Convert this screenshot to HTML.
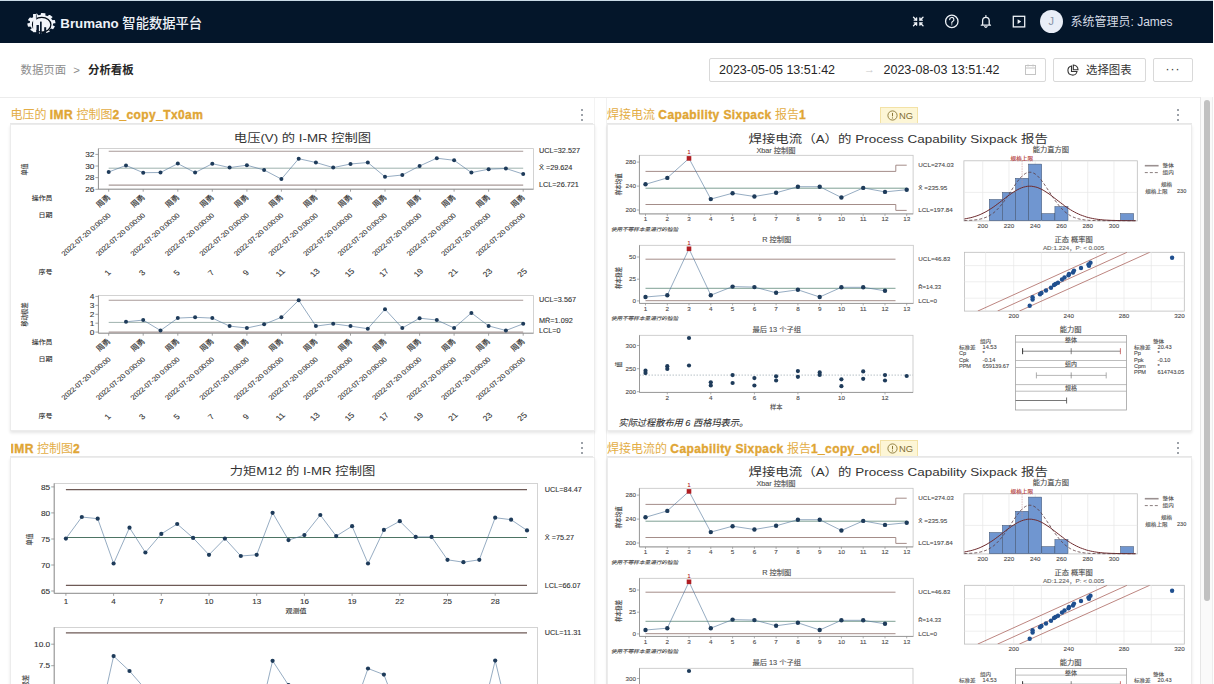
<!DOCTYPE html>
<html lang="zh-CN"><head><meta charset="utf-8"><title>Brumano 智能数据平台</title><style>
*{margin:0;padding:0;box-sizing:border-box}
html,body{width:1214px;height:684px;overflow:hidden;background:#fff;font-family:"Liberation Sans","Noto Sans CJK SC",sans-serif;color:#333}
.a{position:absolute}
#hdr{left:0;top:0;width:1213px;height:43px;background:#04162a;border-top:1px solid #c9dae6}
.ttl{font-size:12px;font-weight:normal;color:#e3ad45;white-space:nowrap;overflow:hidden;line-height:14px}
.ttl b{font-weight:bold;color:#e0a534;letter-spacing:0.4px;-webkit-text-stroke:0.35px #e0a534}
.uline{height:1px;background:#e8e8e8}
.box{border:1px solid #ececec;background:#fff;box-shadow:0 2px 3px rgba(0,0,0,0.10)}
.dots{width:3px}
.dots i{display:block;width:2px;height:2px;border-radius:50%;background:#7d838d;margin-bottom:3.1px}
.btn{border:1px solid #d9d9d9;border-radius:2px;background:#fff}
.badge{width:37.5px;height:17px;background:#fdf6d6;border:1px solid #f3e2a6;font-size:9.4px;color:#7f6c32;display:flex;align-items:center;white-space:nowrap}
svg text{font-family:"Liberation Sans","Noto Sans CJK SC",sans-serif}
</style></head><body>
<div id="hdr" class="a"></div>
<svg class="a" style="left:26px;top:11px" width="32" height="24" viewBox="26 11 32 24">
<g fill="#f2f5fa" transform="translate(41.4 23.3) scale(1.36 1)"><circle r="8.6"/><rect x="-1.7" y="-10.3" width="3.4" height="4" rx="0.5" transform="rotate(8)"/><rect x="-1.7" y="-10.3" width="3.4" height="4" rx="0.5" transform="rotate(44)"/><rect x="-1.7" y="-10.3" width="3.4" height="4" rx="0.5" transform="rotate(80)"/><rect x="-1.7" y="-10.3" width="3.4" height="4" rx="0.5" transform="rotate(116)"/><rect x="-1.7" y="-10.3" width="3.4" height="4" rx="0.5" transform="rotate(152)"/><rect x="-1.7" y="-10.3" width="3.4" height="4" rx="0.5" transform="rotate(188)"/><rect x="-1.7" y="-10.3" width="3.4" height="4" rx="0.5" transform="rotate(224)"/><rect x="-1.7" y="-10.3" width="3.4" height="4" rx="0.5" transform="rotate(260)"/><rect x="-1.7" y="-10.3" width="3.4" height="4" rx="0.5" transform="rotate(296)"/><rect x="-1.7" y="-10.3" width="3.4" height="4" rx="0.5" transform="rotate(332)"/></g>
<ellipse cx="41.7" cy="24.7" rx="9.2" ry="7.4" fill="#f2f5fa" stroke="#020b16" stroke-width="1.3"/>
<rect x="33.1" y="14.0" width="3.2" height="18.2" fill="#f2f5fa"/>
<path d="M36.4 14.4 V18.2" stroke="#08182c" stroke-width="0.7"/>
<rect x="36.5" y="25" width="2.4" height="10" fill="#08182c"/>
<rect x="40" y="21.6" width="1.7" height="13" fill="#08182c"/>
<rect x="44.2" y="27.2" width="2" height="8" fill="#08182c"/>
</svg>
<div class="a" style="left:60.3px;top:15px;font-size:13.3px;font-weight:bold;color:#eef2f8;line-height:18px;white-space:nowrap">Brumano <span style="font-weight:500;font-size:13.3px">智能数据平台</span></div>
<svg class="a" style="left:905px;top:8px" width="130" height="28" viewBox="905 8 130 28" fill="none" stroke="#eef2f7" stroke-width="1.3" stroke-linecap="round">
<path d="M913.5 17.2 L916.6 20.2 M916.6 17.8 V20.2 H914.2 M923 17.2 L919.9 20.2 M919.9 17.8 V20.2 H922.3 M913.5 25.8 L916.6 22.8 M916.6 25.2 V22.8 H914.2 M923 25.8 L919.9 22.8 M919.9 25.2 V22.8 H922.3"/>
<circle cx="951.8" cy="21.4" r="6.2"/>
<path d="M949.7 19.6 a2.1 2.1 0 1 1 2.9 1.9 c-0.6 0.3 -0.8 0.7 -0.8 1.3 v0.4" stroke-width="1.2"/>
<circle cx="951.8" cy="24.8" r="0.6" fill="#eef2f7" stroke="none"/>
<path d="M981.3 25.2 h9.2 M982.6 25.2 v-4.6 a3.3 3.3 0 0 1 6.6 0 v4.6 M985.9 15.6 v1.2 M984.8 26.6 a1.2 1.2 0 0 0 2.2 0" stroke-width="1.3"/>
<rect x="1013.3" y="16.3" width="11.4" height="10.6" stroke-width="1.3"/>
<path d="M1017.6 19.2 L1021.2 21.6 L1017.6 24 Z" fill="#eef2f7" stroke="none"/>
</svg>
<div class="a" style="left:1039.5px;top:9.5px;width:23.5px;height:23.5px;border-radius:50%;background:#e9eef7;color:#8a94a6;font-size:11px;line-height:23.5px;text-align:center">J</div>
<div class="a" style="left:1070.5px;top:14px;font-size:12px;color:#d6dce6;line-height:16px;white-space:nowrap">系统管理员: James</div>

<div class="a" style="left:20.5px;top:62px;font-size:11.4px;line-height:16px;white-space:nowrap;color:#8c8c8c">数据页面 <span style="margin:0 5px 0 4px">&gt;</span> <span style="color:#262626;font-weight:bold">分析看板</span></div>

<div class="a btn" style="left:708.5px;top:58px;width:337.5px;height:24px"></div>
<div class="a" style="left:719px;top:62px;font-size:12.5px;line-height:16px;color:#262626;white-space:nowrap">2023-05-05 13:51:42</div>
<div class="a" style="left:864px;top:61px;font-size:11px;line-height:16px;color:#c8c8c8">&#8594;</div>
<div class="a" style="left:883.5px;top:62px;font-size:12.5px;line-height:16px;color:#262626;white-space:nowrap">2023-08-03 13:51:42</div>
<svg class="a" style="left:1024px;top:64px" width="13" height="12" viewBox="0 0 13 12" fill="none" stroke="#c4c4c4" stroke-width="1"><rect x="1.5" y="1.5" width="10" height="9"/><path d="M1.5 4 H11.5 M4 0.5 V2.5 M9 0.5 V2.5"/></svg>

<div class="a btn" style="left:1053px;top:58px;width:92.5px;height:24px"></div>
<svg class="a" style="left:1066px;top:63.5px" width="13" height="13" viewBox="0 0 13 13" fill="none" stroke="#333" stroke-width="1.1"><path d="M5.5 2 A4.6 4.6 0 1 0 11 7.5 H5.5 Z"/><path d="M7.3 1 A4.6 4.6 0 0 1 12 5.7 H7.3 Z"/></svg>
<div class="a" style="left:1086px;top:62px;font-size:11.4px;line-height:16px;color:#333;white-space:nowrap">选择图表</div>
<div class="a btn" style="left:1152.5px;top:58px;width:40px;height:24px"></div>
<div class="a" style="left:1153px;top:62px;width:40px;text-align:center;font-size:12px;line-height:14px;color:#333;letter-spacing:1px">&middot;&middot;&middot;</div>

<div class="a" style="left:0;top:97px;width:1200px;height:1px;background:#ececec"></div>
<div class="a" style="left:594px;top:98px;width:1px;height:586px;background:#f3f3f3"></div>
<div class="a" style="left:606px;top:98px;width:1px;height:586px;background:#f1f1f1"></div>

<!-- cards -->
<div class="a ttl" style="left:10.5px;top:108px;width:560px">电压的 <b>IMR</b> 控制图<b>2_copy_Tx0am</b></div>
<div class="a dots" style="left:580.5px;top:108.5px"><i></i><i></i><i></i></div>
<div class="a uline" style="left:10px;top:123px;width:583px"></div>
<div class="a box" style="left:10px;top:123.5px;width:584.5px;height:307px"></div>

<div class="a ttl" style="left:607px;top:108px;width:272px">焊接电流 <b>Capability Sixpack</b> 报告<b>1</b></div>
<div class="a badge" style="left:880px;top:106.5px"><svg width="11" height="11" viewBox="0 0 11 11" style="margin:0 1.5px 0 5.5px"><circle cx="5.5" cy="5.5" r="4.6" fill="none" stroke="#8a7636" stroke-width="0.9"/><path d="M5.5 2.9 V6.3" stroke="#8a7636" stroke-width="1"/><circle cx="5.5" cy="7.9" r="0.6" fill="#8a7636"/></svg><span>NG</span></div>
<div class="a dots" style="left:1177px;top:108.5px"><i></i><i></i><i></i></div>
<div class="a uline" style="left:607px;top:123px;width:585px"></div>
<div class="a box" style="left:606.5px;top:123.5px;width:585px;height:307px"></div>

<div class="a ttl" style="left:10.5px;top:441.5px;width:560px"><b>IMR</b> 控制图<b>2</b></div>
<div class="a dots" style="left:580.5px;top:441.5px"><i></i><i></i><i></i></div>
<div class="a uline" style="left:10px;top:456px;width:583px"></div>
<div class="a box" style="left:10px;top:456.5px;width:584.5px;height:307px"></div>

<div class="a ttl" style="left:607px;top:441.5px;width:272.5px">焊接电流的 <b>Capability Sixpack</b> 报告<b>1_copy_ocl</b></div>
<div class="a badge" style="left:880px;top:439.5px"><svg width="11" height="11" viewBox="0 0 11 11" style="margin:0 1.5px 0 5.5px"><circle cx="5.5" cy="5.5" r="4.6" fill="none" stroke="#8a7636" stroke-width="0.9"/><path d="M5.5 2.9 V6.3" stroke="#8a7636" stroke-width="1"/><circle cx="5.5" cy="7.9" r="0.6" fill="#8a7636"/></svg><span>NG</span></div>
<div class="a dots" style="left:1177px;top:441.5px"><i></i><i></i><i></i></div>
<div class="a uline" style="left:607px;top:456px;width:585px"></div>
<div class="a box" style="left:606.5px;top:456.5px;width:585px;height:307px"></div>

<svg class="a" style="left:0;top:0" width="1214" height="684" viewBox="0 0 1214 684">
<defs><clipPath id="cp1"><rect x="964.5" y="252.3" width="219.8" height="58.8"/></clipPath>
<clipPath id="cp2"><rect x="964.5" y="585.3" width="219.8" height="58.8"/></clipPath>
<clipPath id="cl"><rect x="10" y="456" width="585" height="228"/></clipPath></defs>
<text transform="translate(302.5,141.7) scale(1.16,1)" font-size="11.47" text-anchor="middle" fill="#333" >电压(V) 的 I-MR 控制图</text><rect x="98.4" y="148.6" width="435.1" height="40.6" fill="#fff" stroke="#c8c8c8" stroke-width="0.8" /><line x1="98.4" y1="148.6" x2="98.4" y2="189.2" stroke="#8c8c8c" stroke-width="0.9" /><line x1="98.4" y1="189.2" x2="533.5" y2="189.2" stroke="#8c8c8c" stroke-width="0.9" /><line x1="108.7" y1="151.3" x2="523.2" y2="151.3" stroke="#a89a98" stroke-width="1.1" /><line x1="108.7" y1="168.2" x2="523.2" y2="168.2" stroke="#9fb2ae" stroke-width="1.0" /><line x1="108.7" y1="185.1" x2="523.2" y2="185.1" stroke="#a89a98" stroke-width="1.1" /><line x1="95.4" y1="154.4" x2="98.4" y2="154.4" stroke="#8c8c8c" stroke-width="0.8" /><text transform="translate(94.4,156.9) scale(1.16,1)" font-size="7.16" text-anchor="end" fill="#333" stroke="#333" stroke-width="0.1" >32</text><line x1="95.4" y1="166" x2="98.4" y2="166" stroke="#8c8c8c" stroke-width="0.8" /><text transform="translate(94.4,168.6) scale(1.16,1)" font-size="7.16" text-anchor="end" fill="#333" stroke="#333" stroke-width="0.1" >30</text><line x1="95.4" y1="177.6" x2="98.4" y2="177.6" stroke="#8c8c8c" stroke-width="0.8" /><text transform="translate(94.4,180.2) scale(1.16,1)" font-size="7.16" text-anchor="end" fill="#333" stroke="#333" stroke-width="0.1" >28</text><line x1="95.4" y1="189.3" x2="98.4" y2="189.3" stroke="#8c8c8c" stroke-width="0.8" /><text transform="translate(94.4,191.9) scale(1.16,1)" font-size="7.16" text-anchor="end" fill="#333" stroke="#333" stroke-width="0.1" >26</text><polyline fill="none" stroke="#4f7398" stroke-width="0.6" points="108.7,172 126,165.4 143.2,172.7 160.5,172.5 177.8,163.6 195.1,172.6 212.3,163.7 229.6,167.6 246.9,165.2 264.1,170 281.4,179.1 298.7,158.7 315.9,162.5 333.2,167.6 350.5,164 367.8,162.5 385,176.8 402.3,175 419.6,166 436.8,158.2 454.1,160.3 471.4,172.6 488.6,169.2 505.9,168.5 523.2,174.1" /><circle cx="108.7" cy="172" r="2.0" fill="#1e3b5a"/><circle cx="126" cy="165.4" r="2.0" fill="#1e3b5a"/><circle cx="143.2" cy="172.7" r="2.0" fill="#1e3b5a"/><circle cx="160.5" cy="172.5" r="2.0" fill="#1e3b5a"/><circle cx="177.8" cy="163.6" r="2.0" fill="#1e3b5a"/><circle cx="195.1" cy="172.6" r="2.0" fill="#1e3b5a"/><circle cx="212.3" cy="163.7" r="2.0" fill="#1e3b5a"/><circle cx="229.6" cy="167.6" r="2.0" fill="#1e3b5a"/><circle cx="246.9" cy="165.2" r="2.0" fill="#1e3b5a"/><circle cx="264.1" cy="170" r="2.0" fill="#1e3b5a"/><circle cx="281.4" cy="179.1" r="2.0" fill="#1e3b5a"/><circle cx="298.7" cy="158.7" r="2.0" fill="#1e3b5a"/><circle cx="315.9" cy="162.5" r="2.0" fill="#1e3b5a"/><circle cx="333.2" cy="167.6" r="2.0" fill="#1e3b5a"/><circle cx="350.5" cy="164" r="2.0" fill="#1e3b5a"/><circle cx="367.8" cy="162.5" r="2.0" fill="#1e3b5a"/><circle cx="385" cy="176.8" r="2.0" fill="#1e3b5a"/><circle cx="402.3" cy="175" r="2.0" fill="#1e3b5a"/><circle cx="419.6" cy="166" r="2.0" fill="#1e3b5a"/><circle cx="436.8" cy="158.2" r="2.0" fill="#1e3b5a"/><circle cx="454.1" cy="160.3" r="2.0" fill="#1e3b5a"/><circle cx="471.4" cy="172.6" r="2.0" fill="#1e3b5a"/><circle cx="488.6" cy="169.2" r="2.0" fill="#1e3b5a"/><circle cx="505.9" cy="168.5" r="2.0" fill="#1e3b5a"/><circle cx="523.2" cy="174.1" r="2.0" fill="#1e3b5a"/><text transform="translate(539,153.2) scale(1.16,1)" font-size="6.29" text-anchor="start" fill="#333" stroke="#333" stroke-width="0.1" >UCL=32.527</text><text transform="translate(539,169.6) scale(1.16,1)" font-size="6.29" text-anchor="start" fill="#333" stroke="#333" stroke-width="0.1" >X̄ =29.624</text><text transform="translate(539,186.5) scale(1.16,1)" font-size="6.29" text-anchor="start" fill="#333" stroke="#333" stroke-width="0.1" >LCL=26.721</text><text transform="translate(27.4,169.5) scale(1.16,1) rotate(-90)" font-size="6.0" text-anchor="middle" fill="#333" stroke="#333" stroke-width="0.1">单值</text><rect x="98.4" y="295.6" width="435.1" height="37.6" fill="#fff" stroke="#c8c8c8" stroke-width="0.8" /><line x1="98.4" y1="295.6" x2="98.4" y2="333.2" stroke="#8c8c8c" stroke-width="0.9" /><line x1="98.4" y1="333.2" x2="533.5" y2="333.2" stroke="#8c8c8c" stroke-width="0.9" /><line x1="108.7" y1="300.3" x2="523.2" y2="300.3" stroke="#a89a98" stroke-width="1.1" /><line x1="108.7" y1="322.4" x2="523.2" y2="322.4" stroke="#9fb2ae" stroke-width="1.0" /><line x1="108.7" y1="332.1" x2="523.2" y2="332.1" stroke="#a89a98" stroke-width="1.1" /><line x1="95.4" y1="296.4" x2="98.4" y2="296.4" stroke="#8c8c8c" stroke-width="0.8" /><text transform="translate(94.4,299) scale(1.16,1)" font-size="7.16" text-anchor="end" fill="#333" stroke="#333" stroke-width="0.1" >4</text><line x1="95.4" y1="305.4" x2="98.4" y2="305.4" stroke="#8c8c8c" stroke-width="0.8" /><text transform="translate(94.4,307.9) scale(1.16,1)" font-size="7.16" text-anchor="end" fill="#333" stroke="#333" stroke-width="0.1" >3</text><line x1="95.4" y1="314.3" x2="98.4" y2="314.3" stroke="#8c8c8c" stroke-width="0.8" /><text transform="translate(94.4,316.9) scale(1.16,1)" font-size="7.16" text-anchor="end" fill="#333" stroke="#333" stroke-width="0.1" >2</text><line x1="95.4" y1="323.2" x2="98.4" y2="323.2" stroke="#8c8c8c" stroke-width="0.8" /><text transform="translate(94.4,325.8) scale(1.16,1)" font-size="7.16" text-anchor="end" fill="#333" stroke="#333" stroke-width="0.1" >1</text><line x1="95.4" y1="332.1" x2="98.4" y2="332.1" stroke="#8c8c8c" stroke-width="0.8" /><text transform="translate(94.4,334.7) scale(1.16,1)" font-size="7.16" text-anchor="end" fill="#333" stroke="#333" stroke-width="0.1" >0</text><polyline fill="none" stroke="#4f7398" stroke-width="0.6" points="126,321.8 143.2,320.1 160.5,330.5 177.8,318.1 195.1,317.3 212.3,318.1 229.6,326.1 246.9,328 264.1,324.3 281.4,317.3 298.7,300.3 315.9,326.1 333.2,323.8 350.5,326.1 367.8,328.7 385,309.2 402.3,328 419.6,318.2 436.8,320 454.1,328 471.4,312.9 488.6,325.9 505.9,330.5 523.2,323.8" /><circle cx="126" cy="321.8" r="2.0" fill="#1e3b5a"/><circle cx="143.2" cy="320.1" r="2.0" fill="#1e3b5a"/><circle cx="160.5" cy="330.5" r="2.0" fill="#1e3b5a"/><circle cx="177.8" cy="318.1" r="2.0" fill="#1e3b5a"/><circle cx="195.1" cy="317.3" r="2.0" fill="#1e3b5a"/><circle cx="212.3" cy="318.1" r="2.0" fill="#1e3b5a"/><circle cx="229.6" cy="326.1" r="2.0" fill="#1e3b5a"/><circle cx="246.9" cy="328" r="2.0" fill="#1e3b5a"/><circle cx="264.1" cy="324.3" r="2.0" fill="#1e3b5a"/><circle cx="281.4" cy="317.3" r="2.0" fill="#1e3b5a"/><circle cx="298.7" cy="300.3" r="2.0" fill="#1e3b5a"/><circle cx="315.9" cy="326.1" r="2.0" fill="#1e3b5a"/><circle cx="333.2" cy="323.8" r="2.0" fill="#1e3b5a"/><circle cx="350.5" cy="326.1" r="2.0" fill="#1e3b5a"/><circle cx="367.8" cy="328.7" r="2.0" fill="#1e3b5a"/><circle cx="385" cy="309.2" r="2.0" fill="#1e3b5a"/><circle cx="402.3" cy="328" r="2.0" fill="#1e3b5a"/><circle cx="419.6" cy="318.2" r="2.0" fill="#1e3b5a"/><circle cx="436.8" cy="320" r="2.0" fill="#1e3b5a"/><circle cx="454.1" cy="328" r="2.0" fill="#1e3b5a"/><circle cx="471.4" cy="312.9" r="2.0" fill="#1e3b5a"/><circle cx="488.6" cy="325.9" r="2.0" fill="#1e3b5a"/><circle cx="505.9" cy="330.5" r="2.0" fill="#1e3b5a"/><circle cx="523.2" cy="323.8" r="2.0" fill="#1e3b5a"/><text transform="translate(539,301.6) scale(1.16,1)" font-size="6.29" text-anchor="start" fill="#333" stroke="#333" stroke-width="0.1" >UCL=3.567</text><text transform="translate(539,322.6) scale(1.16,1)" font-size="6.29" text-anchor="start" fill="#333" stroke="#333" stroke-width="0.1" >MR̄=1.092</text><text transform="translate(539,333) scale(1.16,1)" font-size="6.29" text-anchor="start" fill="#333" stroke="#333" stroke-width="0.1" >LCL=0</text><text transform="translate(27.4,314.6) scale(1.16,1) rotate(-90)" font-size="6.0" text-anchor="middle" fill="#333" stroke="#333" stroke-width="0.1">移动极差</text><line x1="108.7" y1="189.2" x2="108.7" y2="191.7" stroke="#8c8c8c" stroke-width="0.8" /><text transform="translate(111,197.8) scale(1.16,1) rotate(-45)" font-size="7.1" text-anchor="end" fill="#333" stroke="#333" stroke-width="0.12">周勇</text><text transform="translate(111.2,215.8) scale(1.16,1) rotate(-45)" font-size="6.55" text-anchor="end" fill="#333" stroke="#333" stroke-width="0.12">2022-07-20 0:00:00</text><text transform="translate(109.7,274.5) scale(1.16,1) rotate(-45)" font-size="7.4" text-anchor="middle" fill="#333" stroke="#333" stroke-width="0.12">1</text><line x1="143.2" y1="189.2" x2="143.2" y2="191.7" stroke="#8c8c8c" stroke-width="0.8" /><text transform="translate(145.5,197.8) scale(1.16,1) rotate(-45)" font-size="7.1" text-anchor="end" fill="#333" stroke="#333" stroke-width="0.12">周勇</text><text transform="translate(145.7,215.8) scale(1.16,1) rotate(-45)" font-size="6.55" text-anchor="end" fill="#333" stroke="#333" stroke-width="0.12">2022-07-20 0:00:00</text><text transform="translate(144.2,274.5) scale(1.16,1) rotate(-45)" font-size="7.4" text-anchor="middle" fill="#333" stroke="#333" stroke-width="0.12">3</text><line x1="177.8" y1="189.2" x2="177.8" y2="191.7" stroke="#8c8c8c" stroke-width="0.8" /><text transform="translate(180.1,197.8) scale(1.16,1) rotate(-45)" font-size="7.1" text-anchor="end" fill="#333" stroke="#333" stroke-width="0.12">周勇</text><text transform="translate(180.3,215.8) scale(1.16,1) rotate(-45)" font-size="6.55" text-anchor="end" fill="#333" stroke="#333" stroke-width="0.12">2022-07-20 0:00:00</text><text transform="translate(178.8,274.5) scale(1.16,1) rotate(-45)" font-size="7.4" text-anchor="middle" fill="#333" stroke="#333" stroke-width="0.12">5</text><line x1="212.3" y1="189.2" x2="212.3" y2="191.7" stroke="#8c8c8c" stroke-width="0.8" /><text transform="translate(214.6,197.8) scale(1.16,1) rotate(-45)" font-size="7.1" text-anchor="end" fill="#333" stroke="#333" stroke-width="0.12">周勇</text><text transform="translate(214.8,215.8) scale(1.16,1) rotate(-45)" font-size="6.55" text-anchor="end" fill="#333" stroke="#333" stroke-width="0.12">2022-07-20 0:00:00</text><text transform="translate(213.3,274.5) scale(1.16,1) rotate(-45)" font-size="7.4" text-anchor="middle" fill="#333" stroke="#333" stroke-width="0.12">7</text><line x1="246.9" y1="189.2" x2="246.9" y2="191.7" stroke="#8c8c8c" stroke-width="0.8" /><text transform="translate(249.2,197.8) scale(1.16,1) rotate(-45)" font-size="7.1" text-anchor="end" fill="#333" stroke="#333" stroke-width="0.12">周勇</text><text transform="translate(249.4,215.8) scale(1.16,1) rotate(-45)" font-size="6.55" text-anchor="end" fill="#333" stroke="#333" stroke-width="0.12">2022-07-20 0:00:00</text><text transform="translate(247.9,274.5) scale(1.16,1) rotate(-45)" font-size="7.4" text-anchor="middle" fill="#333" stroke="#333" stroke-width="0.12">9</text><line x1="281.4" y1="189.2" x2="281.4" y2="191.7" stroke="#8c8c8c" stroke-width="0.8" /><text transform="translate(283.7,197.8) scale(1.16,1) rotate(-45)" font-size="7.1" text-anchor="end" fill="#333" stroke="#333" stroke-width="0.12">周勇</text><text transform="translate(283.9,215.8) scale(1.16,1) rotate(-45)" font-size="6.55" text-anchor="end" fill="#333" stroke="#333" stroke-width="0.12">2022-07-20 0:00:00</text><text transform="translate(282.4,274.5) scale(1.16,1) rotate(-45)" font-size="7.4" text-anchor="middle" fill="#333" stroke="#333" stroke-width="0.12">11</text><line x1="315.9" y1="189.2" x2="315.9" y2="191.7" stroke="#8c8c8c" stroke-width="0.8" /><text transform="translate(318.2,197.8) scale(1.16,1) rotate(-45)" font-size="7.1" text-anchor="end" fill="#333" stroke="#333" stroke-width="0.12">周勇</text><text transform="translate(318.4,215.8) scale(1.16,1) rotate(-45)" font-size="6.55" text-anchor="end" fill="#333" stroke="#333" stroke-width="0.12">2022-07-20 0:00:00</text><text transform="translate(316.9,274.5) scale(1.16,1) rotate(-45)" font-size="7.4" text-anchor="middle" fill="#333" stroke="#333" stroke-width="0.12">13</text><line x1="350.5" y1="189.2" x2="350.5" y2="191.7" stroke="#8c8c8c" stroke-width="0.8" /><text transform="translate(352.8,197.8) scale(1.16,1) rotate(-45)" font-size="7.1" text-anchor="end" fill="#333" stroke="#333" stroke-width="0.12">周勇</text><text transform="translate(353,215.8) scale(1.16,1) rotate(-45)" font-size="6.55" text-anchor="end" fill="#333" stroke="#333" stroke-width="0.12">2022-07-20 0:00:00</text><text transform="translate(351.5,274.5) scale(1.16,1) rotate(-45)" font-size="7.4" text-anchor="middle" fill="#333" stroke="#333" stroke-width="0.12">15</text><line x1="385" y1="189.2" x2="385" y2="191.7" stroke="#8c8c8c" stroke-width="0.8" /><text transform="translate(387.3,197.8) scale(1.16,1) rotate(-45)" font-size="7.1" text-anchor="end" fill="#333" stroke="#333" stroke-width="0.12">周勇</text><text transform="translate(387.5,215.8) scale(1.16,1) rotate(-45)" font-size="6.55" text-anchor="end" fill="#333" stroke="#333" stroke-width="0.12">2022-07-20 0:00:00</text><text transform="translate(386,274.5) scale(1.16,1) rotate(-45)" font-size="7.4" text-anchor="middle" fill="#333" stroke="#333" stroke-width="0.12">17</text><line x1="419.6" y1="189.2" x2="419.6" y2="191.7" stroke="#8c8c8c" stroke-width="0.8" /><text transform="translate(421.9,197.8) scale(1.16,1) rotate(-45)" font-size="7.1" text-anchor="end" fill="#333" stroke="#333" stroke-width="0.12">周勇</text><text transform="translate(422.1,215.8) scale(1.16,1) rotate(-45)" font-size="6.55" text-anchor="end" fill="#333" stroke="#333" stroke-width="0.12">2022-07-20 0:00:00</text><text transform="translate(420.6,274.5) scale(1.16,1) rotate(-45)" font-size="7.4" text-anchor="middle" fill="#333" stroke="#333" stroke-width="0.12">19</text><line x1="454.1" y1="189.2" x2="454.1" y2="191.7" stroke="#8c8c8c" stroke-width="0.8" /><text transform="translate(456.4,197.8) scale(1.16,1) rotate(-45)" font-size="7.1" text-anchor="end" fill="#333" stroke="#333" stroke-width="0.12">周勇</text><text transform="translate(456.6,215.8) scale(1.16,1) rotate(-45)" font-size="6.55" text-anchor="end" fill="#333" stroke="#333" stroke-width="0.12">2022-07-20 0:00:00</text><text transform="translate(455.1,274.5) scale(1.16,1) rotate(-45)" font-size="7.4" text-anchor="middle" fill="#333" stroke="#333" stroke-width="0.12">21</text><line x1="488.6" y1="189.2" x2="488.6" y2="191.7" stroke="#8c8c8c" stroke-width="0.8" /><text transform="translate(490.9,197.8) scale(1.16,1) rotate(-45)" font-size="7.1" text-anchor="end" fill="#333" stroke="#333" stroke-width="0.12">周勇</text><text transform="translate(491.1,215.8) scale(1.16,1) rotate(-45)" font-size="6.55" text-anchor="end" fill="#333" stroke="#333" stroke-width="0.12">2022-07-20 0:00:00</text><text transform="translate(489.6,274.5) scale(1.16,1) rotate(-45)" font-size="7.4" text-anchor="middle" fill="#333" stroke="#333" stroke-width="0.12">23</text><line x1="523.2" y1="189.2" x2="523.2" y2="191.7" stroke="#8c8c8c" stroke-width="0.8" /><text transform="translate(525.5,197.8) scale(1.16,1) rotate(-45)" font-size="7.1" text-anchor="end" fill="#333" stroke="#333" stroke-width="0.12">周勇</text><text transform="translate(525.7,215.8) scale(1.16,1) rotate(-45)" font-size="6.55" text-anchor="end" fill="#333" stroke="#333" stroke-width="0.12">2022-07-20 0:00:00</text><text transform="translate(524.2,274.5) scale(1.16,1) rotate(-45)" font-size="7.4" text-anchor="middle" fill="#333" stroke="#333" stroke-width="0.12">25</text><text transform="translate(52.6,199.9) scale(1.16,1)" font-size="6.03" text-anchor="end" fill="#333" stroke="#333" stroke-width="0.1" >操作员</text><text transform="translate(52.6,217.2) scale(1.16,1)" font-size="6.03" text-anchor="end" fill="#333" stroke="#333" stroke-width="0.1" >日期</text><text transform="translate(52.6,274.2) scale(1.16,1)" font-size="6.03" text-anchor="end" fill="#333" stroke="#333" stroke-width="0.1" >序号</text><line x1="108.7" y1="333.2" x2="108.7" y2="335.7" stroke="#8c8c8c" stroke-width="0.8" /><text transform="translate(111,341.8) scale(1.16,1) rotate(-45)" font-size="7.1" text-anchor="end" fill="#333" stroke="#333" stroke-width="0.12">周勇</text><text transform="translate(111.2,359.8) scale(1.16,1) rotate(-45)" font-size="6.55" text-anchor="end" fill="#333" stroke="#333" stroke-width="0.12">2022-07-20 0:00:00</text><text transform="translate(109.7,418.5) scale(1.16,1) rotate(-45)" font-size="7.4" text-anchor="middle" fill="#333" stroke="#333" stroke-width="0.12">1</text><line x1="143.2" y1="333.2" x2="143.2" y2="335.7" stroke="#8c8c8c" stroke-width="0.8" /><text transform="translate(145.5,341.8) scale(1.16,1) rotate(-45)" font-size="7.1" text-anchor="end" fill="#333" stroke="#333" stroke-width="0.12">周勇</text><text transform="translate(145.7,359.8) scale(1.16,1) rotate(-45)" font-size="6.55" text-anchor="end" fill="#333" stroke="#333" stroke-width="0.12">2022-07-20 0:00:00</text><text transform="translate(144.2,418.5) scale(1.16,1) rotate(-45)" font-size="7.4" text-anchor="middle" fill="#333" stroke="#333" stroke-width="0.12">3</text><line x1="177.8" y1="333.2" x2="177.8" y2="335.7" stroke="#8c8c8c" stroke-width="0.8" /><text transform="translate(180.1,341.8) scale(1.16,1) rotate(-45)" font-size="7.1" text-anchor="end" fill="#333" stroke="#333" stroke-width="0.12">周勇</text><text transform="translate(180.3,359.8) scale(1.16,1) rotate(-45)" font-size="6.55" text-anchor="end" fill="#333" stroke="#333" stroke-width="0.12">2022-07-20 0:00:00</text><text transform="translate(178.8,418.5) scale(1.16,1) rotate(-45)" font-size="7.4" text-anchor="middle" fill="#333" stroke="#333" stroke-width="0.12">5</text><line x1="212.3" y1="333.2" x2="212.3" y2="335.7" stroke="#8c8c8c" stroke-width="0.8" /><text transform="translate(214.6,341.8) scale(1.16,1) rotate(-45)" font-size="7.1" text-anchor="end" fill="#333" stroke="#333" stroke-width="0.12">周勇</text><text transform="translate(214.8,359.8) scale(1.16,1) rotate(-45)" font-size="6.55" text-anchor="end" fill="#333" stroke="#333" stroke-width="0.12">2022-07-20 0:00:00</text><text transform="translate(213.3,418.5) scale(1.16,1) rotate(-45)" font-size="7.4" text-anchor="middle" fill="#333" stroke="#333" stroke-width="0.12">7</text><line x1="246.9" y1="333.2" x2="246.9" y2="335.7" stroke="#8c8c8c" stroke-width="0.8" /><text transform="translate(249.2,341.8) scale(1.16,1) rotate(-45)" font-size="7.1" text-anchor="end" fill="#333" stroke="#333" stroke-width="0.12">周勇</text><text transform="translate(249.4,359.8) scale(1.16,1) rotate(-45)" font-size="6.55" text-anchor="end" fill="#333" stroke="#333" stroke-width="0.12">2022-07-20 0:00:00</text><text transform="translate(247.9,418.5) scale(1.16,1) rotate(-45)" font-size="7.4" text-anchor="middle" fill="#333" stroke="#333" stroke-width="0.12">9</text><line x1="281.4" y1="333.2" x2="281.4" y2="335.7" stroke="#8c8c8c" stroke-width="0.8" /><text transform="translate(283.7,341.8) scale(1.16,1) rotate(-45)" font-size="7.1" text-anchor="end" fill="#333" stroke="#333" stroke-width="0.12">周勇</text><text transform="translate(283.9,359.8) scale(1.16,1) rotate(-45)" font-size="6.55" text-anchor="end" fill="#333" stroke="#333" stroke-width="0.12">2022-07-20 0:00:00</text><text transform="translate(282.4,418.5) scale(1.16,1) rotate(-45)" font-size="7.4" text-anchor="middle" fill="#333" stroke="#333" stroke-width="0.12">11</text><line x1="315.9" y1="333.2" x2="315.9" y2="335.7" stroke="#8c8c8c" stroke-width="0.8" /><text transform="translate(318.2,341.8) scale(1.16,1) rotate(-45)" font-size="7.1" text-anchor="end" fill="#333" stroke="#333" stroke-width="0.12">周勇</text><text transform="translate(318.4,359.8) scale(1.16,1) rotate(-45)" font-size="6.55" text-anchor="end" fill="#333" stroke="#333" stroke-width="0.12">2022-07-20 0:00:00</text><text transform="translate(316.9,418.5) scale(1.16,1) rotate(-45)" font-size="7.4" text-anchor="middle" fill="#333" stroke="#333" stroke-width="0.12">13</text><line x1="350.5" y1="333.2" x2="350.5" y2="335.7" stroke="#8c8c8c" stroke-width="0.8" /><text transform="translate(352.8,341.8) scale(1.16,1) rotate(-45)" font-size="7.1" text-anchor="end" fill="#333" stroke="#333" stroke-width="0.12">周勇</text><text transform="translate(353,359.8) scale(1.16,1) rotate(-45)" font-size="6.55" text-anchor="end" fill="#333" stroke="#333" stroke-width="0.12">2022-07-20 0:00:00</text><text transform="translate(351.5,418.5) scale(1.16,1) rotate(-45)" font-size="7.4" text-anchor="middle" fill="#333" stroke="#333" stroke-width="0.12">15</text><line x1="385" y1="333.2" x2="385" y2="335.7" stroke="#8c8c8c" stroke-width="0.8" /><text transform="translate(387.3,341.8) scale(1.16,1) rotate(-45)" font-size="7.1" text-anchor="end" fill="#333" stroke="#333" stroke-width="0.12">周勇</text><text transform="translate(387.5,359.8) scale(1.16,1) rotate(-45)" font-size="6.55" text-anchor="end" fill="#333" stroke="#333" stroke-width="0.12">2022-07-20 0:00:00</text><text transform="translate(386,418.5) scale(1.16,1) rotate(-45)" font-size="7.4" text-anchor="middle" fill="#333" stroke="#333" stroke-width="0.12">17</text><line x1="419.6" y1="333.2" x2="419.6" y2="335.7" stroke="#8c8c8c" stroke-width="0.8" /><text transform="translate(421.9,341.8) scale(1.16,1) rotate(-45)" font-size="7.1" text-anchor="end" fill="#333" stroke="#333" stroke-width="0.12">周勇</text><text transform="translate(422.1,359.8) scale(1.16,1) rotate(-45)" font-size="6.55" text-anchor="end" fill="#333" stroke="#333" stroke-width="0.12">2022-07-20 0:00:00</text><text transform="translate(420.6,418.5) scale(1.16,1) rotate(-45)" font-size="7.4" text-anchor="middle" fill="#333" stroke="#333" stroke-width="0.12">19</text><line x1="454.1" y1="333.2" x2="454.1" y2="335.7" stroke="#8c8c8c" stroke-width="0.8" /><text transform="translate(456.4,341.8) scale(1.16,1) rotate(-45)" font-size="7.1" text-anchor="end" fill="#333" stroke="#333" stroke-width="0.12">周勇</text><text transform="translate(456.6,359.8) scale(1.16,1) rotate(-45)" font-size="6.55" text-anchor="end" fill="#333" stroke="#333" stroke-width="0.12">2022-07-20 0:00:00</text><text transform="translate(455.1,418.5) scale(1.16,1) rotate(-45)" font-size="7.4" text-anchor="middle" fill="#333" stroke="#333" stroke-width="0.12">21</text><line x1="488.6" y1="333.2" x2="488.6" y2="335.7" stroke="#8c8c8c" stroke-width="0.8" /><text transform="translate(490.9,341.8) scale(1.16,1) rotate(-45)" font-size="7.1" text-anchor="end" fill="#333" stroke="#333" stroke-width="0.12">周勇</text><text transform="translate(491.1,359.8) scale(1.16,1) rotate(-45)" font-size="6.55" text-anchor="end" fill="#333" stroke="#333" stroke-width="0.12">2022-07-20 0:00:00</text><text transform="translate(489.6,418.5) scale(1.16,1) rotate(-45)" font-size="7.4" text-anchor="middle" fill="#333" stroke="#333" stroke-width="0.12">23</text><line x1="523.2" y1="333.2" x2="523.2" y2="335.7" stroke="#8c8c8c" stroke-width="0.8" /><text transform="translate(525.5,341.8) scale(1.16,1) rotate(-45)" font-size="7.1" text-anchor="end" fill="#333" stroke="#333" stroke-width="0.12">周勇</text><text transform="translate(525.7,359.8) scale(1.16,1) rotate(-45)" font-size="6.55" text-anchor="end" fill="#333" stroke="#333" stroke-width="0.12">2022-07-20 0:00:00</text><text transform="translate(524.2,418.5) scale(1.16,1) rotate(-45)" font-size="7.4" text-anchor="middle" fill="#333" stroke="#333" stroke-width="0.12">25</text><text transform="translate(52.6,343.9) scale(1.16,1)" font-size="6.03" text-anchor="end" fill="#333" stroke="#333" stroke-width="0.1" >操作员</text><text transform="translate(52.6,361.2) scale(1.16,1)" font-size="6.03" text-anchor="end" fill="#333" stroke="#333" stroke-width="0.1" >日期</text><text transform="translate(52.6,418.2) scale(1.16,1)" font-size="6.03" text-anchor="end" fill="#333" stroke="#333" stroke-width="0.1" >序号</text>
<g clip-path="url(#cl)"><text transform="translate(302.5,475.3) scale(1.16,1)" font-size="11.47" text-anchor="middle" fill="#333" >力矩M12 的 I-MR 控制图</text><rect x="54.2" y="483.4" width="483.2" height="109.9" fill="#fff" stroke="#c8c8c8" stroke-width="0.8" /><line x1="54.2" y1="483.4" x2="54.2" y2="593.3" stroke="#8c8c8c" stroke-width="0.9" /><line x1="54.2" y1="593.3" x2="537.4" y2="593.3" stroke="#8c8c8c" stroke-width="0.9" /><line x1="65.9" y1="489.7" x2="527" y2="489.7" stroke="#6e5a56" stroke-width="1.2" /><line x1="65.9" y1="585.4" x2="527" y2="585.4" stroke="#6e5a56" stroke-width="1.2" /><line x1="65.9" y1="537.5" x2="527" y2="537.5" stroke="#4d7464" stroke-width="1.2" /><line x1="51.2" y1="486.9" x2="54.2" y2="486.9" stroke="#8c8c8c" stroke-width="0.8" /><text transform="translate(50.2,489.5) scale(1.16,1)" font-size="7.16" text-anchor="end" fill="#333" stroke="#333" stroke-width="0.1" >85</text><line x1="51.2" y1="512.9" x2="54.2" y2="512.9" stroke="#8c8c8c" stroke-width="0.8" /><text transform="translate(50.2,515.5) scale(1.16,1)" font-size="7.16" text-anchor="end" fill="#333" stroke="#333" stroke-width="0.1" >80</text><line x1="51.2" y1="539" x2="54.2" y2="539" stroke="#8c8c8c" stroke-width="0.8" /><text transform="translate(50.2,541.5) scale(1.16,1)" font-size="7.16" text-anchor="end" fill="#333" stroke="#333" stroke-width="0.1" >75</text><line x1="51.2" y1="565" x2="54.2" y2="565" stroke="#8c8c8c" stroke-width="0.8" /><text transform="translate(50.2,567.5) scale(1.16,1)" font-size="7.16" text-anchor="end" fill="#333" stroke="#333" stroke-width="0.1" >70</text><line x1="51.2" y1="591" x2="54.2" y2="591" stroke="#8c8c8c" stroke-width="0.8" /><text transform="translate(50.2,593.5) scale(1.16,1)" font-size="7.16" text-anchor="end" fill="#333" stroke="#333" stroke-width="0.1" >65</text><polyline fill="none" stroke="#4f7398" stroke-width="0.6" points="65.9,538.6 81.8,517 97.7,518.7 113.6,563.5 129.5,527.7 145.4,552.5 161.3,533.9 177.2,524 193.1,537.9 209,554.8 224.9,538.6 240.8,556 256.7,554.8 272.6,512.8 288.5,540.1 304.4,535.1 320.3,515 336.2,536.1 352.1,526.2 368,563.5 383.9,529.9 399.8,521.2 415.7,536.9 431.6,536.9 447.5,559.8 463.4,562.2 479.3,559.8 495.2,517.7 511.1,519.7 527,530.4" /><circle cx="65.9" cy="538.6" r="2.1" fill="#1e3b5a"/><circle cx="81.8" cy="517" r="2.1" fill="#1e3b5a"/><circle cx="97.7" cy="518.7" r="2.1" fill="#1e3b5a"/><circle cx="113.6" cy="563.5" r="2.1" fill="#1e3b5a"/><circle cx="129.5" cy="527.7" r="2.1" fill="#1e3b5a"/><circle cx="145.4" cy="552.5" r="2.1" fill="#1e3b5a"/><circle cx="161.3" cy="533.9" r="2.1" fill="#1e3b5a"/><circle cx="177.2" cy="524" r="2.1" fill="#1e3b5a"/><circle cx="193.1" cy="537.9" r="2.1" fill="#1e3b5a"/><circle cx="209" cy="554.8" r="2.1" fill="#1e3b5a"/><circle cx="224.9" cy="538.6" r="2.1" fill="#1e3b5a"/><circle cx="240.8" cy="556" r="2.1" fill="#1e3b5a"/><circle cx="256.7" cy="554.8" r="2.1" fill="#1e3b5a"/><circle cx="272.6" cy="512.8" r="2.1" fill="#1e3b5a"/><circle cx="288.5" cy="540.1" r="2.1" fill="#1e3b5a"/><circle cx="304.4" cy="535.1" r="2.1" fill="#1e3b5a"/><circle cx="320.3" cy="515" r="2.1" fill="#1e3b5a"/><circle cx="336.2" cy="536.1" r="2.1" fill="#1e3b5a"/><circle cx="352.1" cy="526.2" r="2.1" fill="#1e3b5a"/><circle cx="368" cy="563.5" r="2.1" fill="#1e3b5a"/><circle cx="383.9" cy="529.9" r="2.1" fill="#1e3b5a"/><circle cx="399.8" cy="521.2" r="2.1" fill="#1e3b5a"/><circle cx="415.7" cy="536.9" r="2.1" fill="#1e3b5a"/><circle cx="431.6" cy="536.9" r="2.1" fill="#1e3b5a"/><circle cx="447.5" cy="559.8" r="2.1" fill="#1e3b5a"/><circle cx="463.4" cy="562.2" r="2.1" fill="#1e3b5a"/><circle cx="479.3" cy="559.8" r="2.1" fill="#1e3b5a"/><circle cx="495.2" cy="517.7" r="2.1" fill="#1e3b5a"/><circle cx="511.1" cy="519.7" r="2.1" fill="#1e3b5a"/><circle cx="527" cy="530.4" r="2.1" fill="#1e3b5a"/><line x1="65.9" y1="593.3" x2="65.9" y2="595.8" stroke="#8c8c8c" stroke-width="0.8" /><text transform="translate(65.9,603.5) scale(1.16,1)" font-size="6.9" text-anchor="middle" fill="#333" stroke="#333" stroke-width="0.1" >1</text><line x1="113.6" y1="593.3" x2="113.6" y2="595.8" stroke="#8c8c8c" stroke-width="0.8" /><text transform="translate(113.6,603.5) scale(1.16,1)" font-size="6.9" text-anchor="middle" fill="#333" stroke="#333" stroke-width="0.1" >4</text><line x1="161.3" y1="593.3" x2="161.3" y2="595.8" stroke="#8c8c8c" stroke-width="0.8" /><text transform="translate(161.3,603.5) scale(1.16,1)" font-size="6.9" text-anchor="middle" fill="#333" stroke="#333" stroke-width="0.1" >7</text><line x1="209" y1="593.3" x2="209" y2="595.8" stroke="#8c8c8c" stroke-width="0.8" /><text transform="translate(209,603.5) scale(1.16,1)" font-size="6.9" text-anchor="middle" fill="#333" stroke="#333" stroke-width="0.1" >10</text><line x1="256.7" y1="593.3" x2="256.7" y2="595.8" stroke="#8c8c8c" stroke-width="0.8" /><text transform="translate(256.7,603.5) scale(1.16,1)" font-size="6.9" text-anchor="middle" fill="#333" stroke="#333" stroke-width="0.1" >13</text><line x1="304.4" y1="593.3" x2="304.4" y2="595.8" stroke="#8c8c8c" stroke-width="0.8" /><text transform="translate(304.4,603.5) scale(1.16,1)" font-size="6.9" text-anchor="middle" fill="#333" stroke="#333" stroke-width="0.1" >16</text><line x1="352.1" y1="593.3" x2="352.1" y2="595.8" stroke="#8c8c8c" stroke-width="0.8" /><text transform="translate(352.1,603.5) scale(1.16,1)" font-size="6.9" text-anchor="middle" fill="#333" stroke="#333" stroke-width="0.1" >19</text><line x1="399.8" y1="593.3" x2="399.8" y2="595.8" stroke="#8c8c8c" stroke-width="0.8" /><text transform="translate(399.8,603.5) scale(1.16,1)" font-size="6.9" text-anchor="middle" fill="#333" stroke="#333" stroke-width="0.1" >22</text><line x1="447.5" y1="593.3" x2="447.5" y2="595.8" stroke="#8c8c8c" stroke-width="0.8" /><text transform="translate(447.5,603.5) scale(1.16,1)" font-size="6.9" text-anchor="middle" fill="#333" stroke="#333" stroke-width="0.1" >25</text><line x1="495.2" y1="593.3" x2="495.2" y2="595.8" stroke="#8c8c8c" stroke-width="0.8" /><text transform="translate(495.2,603.5) scale(1.16,1)" font-size="6.9" text-anchor="middle" fill="#333" stroke="#333" stroke-width="0.1" >28</text><text transform="translate(296,613.2) scale(1.16,1)" font-size="6.03" text-anchor="middle" fill="#333" stroke="#333" stroke-width="0.1" >观测值</text><text transform="translate(544.8,491.5) scale(1.16,1)" font-size="6.29" text-anchor="start" fill="#333" stroke="#333" stroke-width="0.1" >UCL=84.47</text><text transform="translate(544.8,539.5) scale(1.16,1)" font-size="6.29" text-anchor="start" fill="#333" stroke="#333" stroke-width="0.1" >X̄ =75.27</text><text transform="translate(544.8,587.5) scale(1.16,1)" font-size="6.29" text-anchor="start" fill="#333" stroke="#333" stroke-width="0.1" >LCL=66.07</text><text transform="translate(32.3,539.4) scale(1.16,1) rotate(-90)" font-size="6.0" text-anchor="middle" fill="#333" stroke="#333" stroke-width="0.1">单值</text><rect x="54.2" y="627.4" width="483.2" height="92.6" fill="#fff" stroke="#c8c8c8" stroke-width="0.8" /><line x1="54.2" y1="627.4" x2="54.2" y2="720" stroke="#8c8c8c" stroke-width="0.9" /><line x1="65.9" y1="632.9" x2="527" y2="632.9" stroke="#6e5a56" stroke-width="1.2" /><line x1="51.2" y1="644.2" x2="54.2" y2="644.2" stroke="#8c8c8c" stroke-width="0.8" /><text transform="translate(50.2,646.8) scale(1.16,1)" font-size="7.16" text-anchor="end" fill="#333" stroke="#333" stroke-width="0.1" >10.0</text><line x1="51.2" y1="665.7" x2="54.2" y2="665.7" stroke="#8c8c8c" stroke-width="0.8" /><text transform="translate(50.2,668.3) scale(1.16,1)" font-size="7.16" text-anchor="end" fill="#333" stroke="#333" stroke-width="0.1" >7.5</text><polyline fill="none" stroke="#4f7398" stroke-width="0.6" points="81.8,694.5 97.7,727.4 113.6,656.1 129.5,671 145.4,689.2 161.3,699.4 177.2,713.8 193.1,707.2 209,702.3 224.9,703.4 240.8,701.4 256.7,728.2 272.6,660.8 288.5,685.1 304.4,721.9 320.3,697 336.2,695.3 352.1,713.8 368,668.5 383.9,674.6 399.8,715.8 415.7,704.2 431.6,730.2 447.5,692.3 463.4,726.2 479.3,726.2 495.2,660.6 511.1,726.9 527,712.5" /><circle cx="113.6" cy="656.1" r="2.1" fill="#1e3b5a"/><circle cx="129.5" cy="671" r="2.1" fill="#1e3b5a"/><circle cx="145.4" cy="689.2" r="2.1" fill="#1e3b5a"/><circle cx="272.6" cy="660.8" r="2.1" fill="#1e3b5a"/><circle cx="288.5" cy="685.1" r="2.1" fill="#1e3b5a"/><circle cx="368" cy="668.5" r="2.1" fill="#1e3b5a"/><circle cx="383.9" cy="674.6" r="2.1" fill="#1e3b5a"/><circle cx="495.2" cy="660.6" r="2.1" fill="#1e3b5a"/><text transform="translate(544.8,634.9) scale(1.16,1)" font-size="6.29" text-anchor="start" fill="#333" stroke="#333" stroke-width="0.1" >UCL=11.31</text><text transform="translate(28.3,687) scale(1.16,1) rotate(-90)" font-size="6.0" text-anchor="middle" fill="#333" stroke="#333" stroke-width="0.1">移动极差</text></g>
<text transform="translate(898.2,142.5) scale(1.16,1)" font-size="11.59" text-anchor="middle" fill="#333" >焊接电流（A）的 Process Capability Sixpack 报告</text><rect x="639.4" y="155.3" width="273.7" height="58.6" fill="#fff" stroke="#c4c4c4" stroke-width="0.8" /><line x1="639.4" y1="155.3" x2="639.4" y2="213.9" stroke="#8c8c8c" stroke-width="0.8" /><line x1="639.4" y1="213.9" x2="913.1" y2="213.9" stroke="#8c8c8c" stroke-width="0.8" /><text transform="translate(776,152.5) scale(1.16,1)" font-size="6.29" text-anchor="middle" fill="#4d4d4d" stroke="#4d4d4d" stroke-width="0.1" >Xbar 控制图</text><polyline fill="none" stroke="#9a807c" stroke-width="0.9" points="645.5,171.4 895.8,171.4 895.8,165.2 906.7,165.2" /><polyline fill="none" stroke="#9a807c" stroke-width="0.9" points="645.5,204.5 895.8,204.5 895.8,210.4 906.7,210.4" /><line x1="645.5" y1="188.2" x2="906.7" y2="188.2" stroke="#7fa094" stroke-width="1.0" /><polyline fill="none" stroke="#4f7398" stroke-width="0.6" points="645.5,184.3 667.3,177.9 689,158.4 710.8,199.1 732.6,193.2 754.4,196.5 776.1,192.8 797.9,186.7 819.7,186.7 841.4,197.5 863.2,187.9 885,191.9 906.7,189.7" /><circle cx="645.5" cy="184.3" r="2.2" fill="#1e3b5a"/><circle cx="667.3" cy="177.9" r="2.2" fill="#1e3b5a"/><rect x="686.7" y="156.1" width="4.6" height="4.6" fill="#b01e23" stroke="none" stroke-width="1" /><circle cx="710.8" cy="199.1" r="2.2" fill="#1e3b5a"/><circle cx="732.6" cy="193.2" r="2.2" fill="#1e3b5a"/><circle cx="754.4" cy="196.5" r="2.2" fill="#1e3b5a"/><circle cx="776.1" cy="192.8" r="2.2" fill="#1e3b5a"/><circle cx="797.9" cy="186.7" r="2.2" fill="#1e3b5a"/><circle cx="819.7" cy="186.7" r="2.2" fill="#1e3b5a"/><circle cx="841.4" cy="197.5" r="2.2" fill="#1e3b5a"/><circle cx="863.2" cy="187.9" r="2.2" fill="#1e3b5a"/><circle cx="885" cy="191.9" r="2.2" fill="#1e3b5a"/><circle cx="906.7" cy="189.7" r="2.2" fill="#1e3b5a"/><text transform="translate(689,154.2) scale(1.16,1)" font-size="4.74" text-anchor="middle" fill="#b01e23" stroke="#b01e23" stroke-width="0.1" >1</text><line x1="636.9" y1="162.1" x2="639.4" y2="162.1" stroke="#8c8c8c" stroke-width="0.7" /><text transform="translate(636,164.1) scale(1.16,1)" font-size="5.43" text-anchor="end" fill="#4d4d4d" stroke="#4d4d4d" stroke-width="0.1" >280</text><line x1="636.9" y1="186.1" x2="639.4" y2="186.1" stroke="#8c8c8c" stroke-width="0.7" /><text transform="translate(636,188.1) scale(1.16,1)" font-size="5.43" text-anchor="end" fill="#4d4d4d" stroke="#4d4d4d" stroke-width="0.1" >240</text><line x1="636.9" y1="210" x2="639.4" y2="210" stroke="#8c8c8c" stroke-width="0.7" /><text transform="translate(636,212) scale(1.16,1)" font-size="5.43" text-anchor="end" fill="#4d4d4d" stroke="#4d4d4d" stroke-width="0.1" >200</text><line x1="645.5" y1="213.9" x2="645.5" y2="215.9" stroke="#8c8c8c" stroke-width="0.7" /><text transform="translate(645.5,221.2) scale(1.16,1)" font-size="5.43" text-anchor="middle" fill="#4d4d4d" stroke="#4d4d4d" stroke-width="0.1" >1</text><line x1="667.3" y1="213.9" x2="667.3" y2="215.9" stroke="#8c8c8c" stroke-width="0.7" /><text transform="translate(667.3,221.2) scale(1.16,1)" font-size="5.43" text-anchor="middle" fill="#4d4d4d" stroke="#4d4d4d" stroke-width="0.1" >2</text><line x1="689" y1="213.9" x2="689" y2="215.9" stroke="#8c8c8c" stroke-width="0.7" /><text transform="translate(689,221.2) scale(1.16,1)" font-size="5.43" text-anchor="middle" fill="#4d4d4d" stroke="#4d4d4d" stroke-width="0.1" >3</text><line x1="710.8" y1="213.9" x2="710.8" y2="215.9" stroke="#8c8c8c" stroke-width="0.7" /><text transform="translate(710.8,221.2) scale(1.16,1)" font-size="5.43" text-anchor="middle" fill="#4d4d4d" stroke="#4d4d4d" stroke-width="0.1" >4</text><line x1="732.6" y1="213.9" x2="732.6" y2="215.9" stroke="#8c8c8c" stroke-width="0.7" /><text transform="translate(732.6,221.2) scale(1.16,1)" font-size="5.43" text-anchor="middle" fill="#4d4d4d" stroke="#4d4d4d" stroke-width="0.1" >5</text><line x1="754.4" y1="213.9" x2="754.4" y2="215.9" stroke="#8c8c8c" stroke-width="0.7" /><text transform="translate(754.4,221.2) scale(1.16,1)" font-size="5.43" text-anchor="middle" fill="#4d4d4d" stroke="#4d4d4d" stroke-width="0.1" >6</text><line x1="776.1" y1="213.9" x2="776.1" y2="215.9" stroke="#8c8c8c" stroke-width="0.7" /><text transform="translate(776.1,221.2) scale(1.16,1)" font-size="5.43" text-anchor="middle" fill="#4d4d4d" stroke="#4d4d4d" stroke-width="0.1" >7</text><line x1="797.9" y1="213.9" x2="797.9" y2="215.9" stroke="#8c8c8c" stroke-width="0.7" /><text transform="translate(797.9,221.2) scale(1.16,1)" font-size="5.43" text-anchor="middle" fill="#4d4d4d" stroke="#4d4d4d" stroke-width="0.1" >8</text><line x1="819.7" y1="213.9" x2="819.7" y2="215.9" stroke="#8c8c8c" stroke-width="0.7" /><text transform="translate(819.7,221.2) scale(1.16,1)" font-size="5.43" text-anchor="middle" fill="#4d4d4d" stroke="#4d4d4d" stroke-width="0.1" >9</text><line x1="841.4" y1="213.9" x2="841.4" y2="215.9" stroke="#8c8c8c" stroke-width="0.7" /><text transform="translate(841.4,221.2) scale(1.16,1)" font-size="5.43" text-anchor="middle" fill="#4d4d4d" stroke="#4d4d4d" stroke-width="0.1" >10</text><line x1="863.2" y1="213.9" x2="863.2" y2="215.9" stroke="#8c8c8c" stroke-width="0.7" /><text transform="translate(863.2,221.2) scale(1.16,1)" font-size="5.43" text-anchor="middle" fill="#4d4d4d" stroke="#4d4d4d" stroke-width="0.1" >11</text><line x1="885" y1="213.9" x2="885" y2="215.9" stroke="#8c8c8c" stroke-width="0.7" /><text transform="translate(885,221.2) scale(1.16,1)" font-size="5.43" text-anchor="middle" fill="#4d4d4d" stroke="#4d4d4d" stroke-width="0.1" >12</text><line x1="906.7" y1="213.9" x2="906.7" y2="215.9" stroke="#8c8c8c" stroke-width="0.7" /><text transform="translate(906.7,221.2) scale(1.16,1)" font-size="5.43" text-anchor="middle" fill="#4d4d4d" stroke="#4d4d4d" stroke-width="0.1" >13</text><text transform="translate(918.3,167.2) scale(1.16,1)" font-size="5.43" text-anchor="start" fill="#4d4d4d" stroke="#4d4d4d" stroke-width="0.1" >UCL=274.03</text><text transform="translate(918.3,190.2) scale(1.16,1)" font-size="5.43" text-anchor="start" fill="#4d4d4d" stroke="#4d4d4d" stroke-width="0.1" >X̄ =235.95</text><text transform="translate(918.3,212.4) scale(1.16,1)" font-size="5.43" text-anchor="start" fill="#4d4d4d" stroke="#4d4d4d" stroke-width="0.1" >LCL=197.84</text><text transform="translate(620.6,184.3) scale(1.16,1) rotate(-90)" font-size="5.5" text-anchor="middle" fill="#333" stroke="#333" stroke-width="0.1">样本均值</text><text transform="translate(611,230.9) scale(1.16,1)" font-size="4.83" text-anchor="start" fill="#444" stroke="#444" stroke-width="0.1" font-style="italic">使用不等样本量进行的检验</text><rect x="639.5" y="245.3" width="273.8" height="58.1" fill="#fff" stroke="#c4c4c4" stroke-width="0.8" /><line x1="639.5" y1="245.3" x2="639.5" y2="303.4" stroke="#8c8c8c" stroke-width="0.8" /><line x1="639.5" y1="303.4" x2="913.3" y2="303.4" stroke="#8c8c8c" stroke-width="0.8" /><text transform="translate(776.7,242.4) scale(1.16,1)" font-size="6.29" text-anchor="middle" fill="#4d4d4d" stroke="#4d4d4d" stroke-width="0.1" >R 控制图</text><line x1="645.5" y1="259.2" x2="895.5" y2="259.2" stroke="#9a807c" stroke-width="0.9" /><line x1="645.5" y1="288.3" x2="895.5" y2="288.3" stroke="#7fa094" stroke-width="1.0" /><line x1="645.5" y1="300.7" x2="895.5" y2="300.7" stroke="#9a807c" stroke-width="0.9" /><polyline fill="none" stroke="#4f7398" stroke-width="0.6" points="645.5,297 667.3,295.2 689,248.8 710.8,295.2 732.6,286.6 754.4,287.1 776.1,292.8 797.9,289.8 819.7,297 841.4,287.3 863.2,287.3 885,290.8" /><circle cx="645.5" cy="297" r="2.2" fill="#1e3b5a"/><circle cx="667.3" cy="295.2" r="2.2" fill="#1e3b5a"/><rect x="686.7" y="246.5" width="4.6" height="4.6" fill="#b01e23" stroke="none" stroke-width="1" /><circle cx="710.8" cy="295.2" r="2.2" fill="#1e3b5a"/><circle cx="732.6" cy="286.6" r="2.2" fill="#1e3b5a"/><circle cx="754.4" cy="287.1" r="2.2" fill="#1e3b5a"/><circle cx="776.1" cy="292.8" r="2.2" fill="#1e3b5a"/><circle cx="797.9" cy="289.8" r="2.2" fill="#1e3b5a"/><circle cx="819.7" cy="297" r="2.2" fill="#1e3b5a"/><circle cx="841.4" cy="287.3" r="2.2" fill="#1e3b5a"/><circle cx="863.2" cy="287.3" r="2.2" fill="#1e3b5a"/><circle cx="885" cy="290.8" r="2.2" fill="#1e3b5a"/><text transform="translate(689,244.7) scale(1.16,1)" font-size="4.74" text-anchor="middle" fill="#b01e23" stroke="#b01e23" stroke-width="0.1" >1</text><line x1="637" y1="257" x2="639.5" y2="257" stroke="#8c8c8c" stroke-width="0.7" /><text transform="translate(636,259) scale(1.16,1)" font-size="5.43" text-anchor="end" fill="#4d4d4d" stroke="#4d4d4d" stroke-width="0.1" >50</text><line x1="637" y1="279.2" x2="639.5" y2="279.2" stroke="#8c8c8c" stroke-width="0.7" /><text transform="translate(636,281.2) scale(1.16,1)" font-size="5.43" text-anchor="end" fill="#4d4d4d" stroke="#4d4d4d" stroke-width="0.1" >25</text><line x1="637" y1="300.9" x2="639.5" y2="300.9" stroke="#8c8c8c" stroke-width="0.7" /><text transform="translate(636,302.9) scale(1.16,1)" font-size="5.43" text-anchor="end" fill="#4d4d4d" stroke="#4d4d4d" stroke-width="0.1" >0</text><line x1="645.5" y1="303.4" x2="645.5" y2="305.4" stroke="#8c8c8c" stroke-width="0.7" /><text transform="translate(645.5,310.8) scale(1.16,1)" font-size="5.43" text-anchor="middle" fill="#4d4d4d" stroke="#4d4d4d" stroke-width="0.1" >1</text><line x1="667.3" y1="303.4" x2="667.3" y2="305.4" stroke="#8c8c8c" stroke-width="0.7" /><text transform="translate(667.3,310.8) scale(1.16,1)" font-size="5.43" text-anchor="middle" fill="#4d4d4d" stroke="#4d4d4d" stroke-width="0.1" >2</text><line x1="689" y1="303.4" x2="689" y2="305.4" stroke="#8c8c8c" stroke-width="0.7" /><text transform="translate(689,310.8) scale(1.16,1)" font-size="5.43" text-anchor="middle" fill="#4d4d4d" stroke="#4d4d4d" stroke-width="0.1" >3</text><line x1="710.8" y1="303.4" x2="710.8" y2="305.4" stroke="#8c8c8c" stroke-width="0.7" /><text transform="translate(710.8,310.8) scale(1.16,1)" font-size="5.43" text-anchor="middle" fill="#4d4d4d" stroke="#4d4d4d" stroke-width="0.1" >4</text><line x1="732.6" y1="303.4" x2="732.6" y2="305.4" stroke="#8c8c8c" stroke-width="0.7" /><text transform="translate(732.6,310.8) scale(1.16,1)" font-size="5.43" text-anchor="middle" fill="#4d4d4d" stroke="#4d4d4d" stroke-width="0.1" >5</text><line x1="754.4" y1="303.4" x2="754.4" y2="305.4" stroke="#8c8c8c" stroke-width="0.7" /><text transform="translate(754.4,310.8) scale(1.16,1)" font-size="5.43" text-anchor="middle" fill="#4d4d4d" stroke="#4d4d4d" stroke-width="0.1" >6</text><line x1="776.1" y1="303.4" x2="776.1" y2="305.4" stroke="#8c8c8c" stroke-width="0.7" /><text transform="translate(776.1,310.8) scale(1.16,1)" font-size="5.43" text-anchor="middle" fill="#4d4d4d" stroke="#4d4d4d" stroke-width="0.1" >7</text><line x1="797.9" y1="303.4" x2="797.9" y2="305.4" stroke="#8c8c8c" stroke-width="0.7" /><text transform="translate(797.9,310.8) scale(1.16,1)" font-size="5.43" text-anchor="middle" fill="#4d4d4d" stroke="#4d4d4d" stroke-width="0.1" >8</text><line x1="819.7" y1="303.4" x2="819.7" y2="305.4" stroke="#8c8c8c" stroke-width="0.7" /><text transform="translate(819.7,310.8) scale(1.16,1)" font-size="5.43" text-anchor="middle" fill="#4d4d4d" stroke="#4d4d4d" stroke-width="0.1" >9</text><line x1="841.4" y1="303.4" x2="841.4" y2="305.4" stroke="#8c8c8c" stroke-width="0.7" /><text transform="translate(841.4,310.8) scale(1.16,1)" font-size="5.43" text-anchor="middle" fill="#4d4d4d" stroke="#4d4d4d" stroke-width="0.1" >10</text><line x1="863.2" y1="303.4" x2="863.2" y2="305.4" stroke="#8c8c8c" stroke-width="0.7" /><text transform="translate(863.2,310.8) scale(1.16,1)" font-size="5.43" text-anchor="middle" fill="#4d4d4d" stroke="#4d4d4d" stroke-width="0.1" >11</text><line x1="885" y1="303.4" x2="885" y2="305.4" stroke="#8c8c8c" stroke-width="0.7" /><text transform="translate(885,310.8) scale(1.16,1)" font-size="5.43" text-anchor="middle" fill="#4d4d4d" stroke="#4d4d4d" stroke-width="0.1" >12</text><line x1="906.7" y1="303.4" x2="906.7" y2="305.4" stroke="#8c8c8c" stroke-width="0.7" /><text transform="translate(906.7,310.8) scale(1.16,1)" font-size="5.43" text-anchor="middle" fill="#4d4d4d" stroke="#4d4d4d" stroke-width="0.1" >13</text><text transform="translate(918.3,260.9) scale(1.16,1)" font-size="5.43" text-anchor="start" fill="#4d4d4d" stroke="#4d4d4d" stroke-width="0.1" >UCL=46.83</text><text transform="translate(918.3,289.2) scale(1.16,1)" font-size="5.17" text-anchor="start" fill="#4d4d4d" stroke="#4d4d4d" stroke-width="0.1" >R̄=14.33</text><text transform="translate(918.3,302.6) scale(1.16,1)" font-size="5.43" text-anchor="start" fill="#4d4d4d" stroke="#4d4d4d" stroke-width="0.1" >LCL=0</text><text transform="translate(620.6,278) scale(1.16,1) rotate(-90)" font-size="5.5" text-anchor="middle" fill="#333" stroke="#333" stroke-width="0.1">样本极差</text><text transform="translate(611,320.4) scale(1.16,1)" font-size="4.83" text-anchor="start" fill="#444" stroke="#444" stroke-width="0.1" font-style="italic">使用不等样本量进行的检验</text><rect x="639.5" y="335.3" width="273.5" height="57.1" fill="#fff" stroke="#c4c4c4" stroke-width="0.8" /><line x1="639.5" y1="335.3" x2="639.5" y2="392.4" stroke="#8c8c8c" stroke-width="0.8" /><line x1="639.5" y1="392.4" x2="913" y2="392.4" stroke="#8c8c8c" stroke-width="0.8" /><text transform="translate(776.7,332.2) scale(1.16,1)" font-size="6.29" text-anchor="middle" fill="#4d4d4d" stroke="#4d4d4d" stroke-width="0.1" >最后 13 个子组</text><line x1="639.5" y1="375.1" x2="913" y2="375.1" stroke="#9aa7b0" stroke-width="0.7" stroke-dasharray="1.5,1.5"/><circle cx="645.5" cy="370.7" r="2.1" fill="#1e3b5a"/><circle cx="645.5" cy="373.1" r="2.1" fill="#1e3b5a"/><circle cx="667.3" cy="366.2" r="2.1" fill="#1e3b5a"/><circle cx="667.3" cy="368.9" r="2.1" fill="#1e3b5a"/><circle cx="689" cy="338" r="2.1" fill="#1e3b5a"/><circle cx="689" cy="365.5" r="2.1" fill="#1e3b5a"/><circle cx="710.8" cy="382.3" r="2.1" fill="#1e3b5a"/><circle cx="710.8" cy="385.5" r="2.1" fill="#1e3b5a"/><circle cx="732.6" cy="375.1" r="2.1" fill="#1e3b5a"/><circle cx="732.6" cy="383" r="2.1" fill="#1e3b5a"/><circle cx="754.4" cy="378.1" r="2.1" fill="#1e3b5a"/><circle cx="754.4" cy="385.5" r="2.1" fill="#1e3b5a"/><circle cx="776.1" cy="376.3" r="2.1" fill="#1e3b5a"/><circle cx="776.1" cy="380.5" r="2.1" fill="#1e3b5a"/><circle cx="797.9" cy="371.1" r="2.1" fill="#1e3b5a"/><circle cx="797.9" cy="376.8" r="2.1" fill="#1e3b5a"/><circle cx="819.7" cy="372.4" r="2.1" fill="#1e3b5a"/><circle cx="819.7" cy="374.9" r="2.1" fill="#1e3b5a"/><circle cx="841.4" cy="379.3" r="2.1" fill="#1e3b5a"/><circle cx="841.4" cy="386.2" r="2.1" fill="#1e3b5a"/><circle cx="863.2" cy="371.4" r="2.1" fill="#1e3b5a"/><circle cx="863.2" cy="378.8" r="2.1" fill="#1e3b5a"/><circle cx="885" cy="375.1" r="2.1" fill="#1e3b5a"/><circle cx="885" cy="380.5" r="2.1" fill="#1e3b5a"/><circle cx="906.7" cy="376" r="2.1" fill="#1e3b5a"/><line x1="637" y1="345.5" x2="639.5" y2="345.5" stroke="#8c8c8c" stroke-width="0.7" /><text transform="translate(636,347.5) scale(1.16,1)" font-size="5.43" text-anchor="end" fill="#4d4d4d" stroke="#4d4d4d" stroke-width="0.1" >300</text><line x1="637" y1="368.7" x2="639.5" y2="368.7" stroke="#8c8c8c" stroke-width="0.7" /><text transform="translate(636,370.7) scale(1.16,1)" font-size="5.43" text-anchor="end" fill="#4d4d4d" stroke="#4d4d4d" stroke-width="0.1" >250</text><line x1="637" y1="391.7" x2="639.5" y2="391.7" stroke="#8c8c8c" stroke-width="0.7" /><text transform="translate(636,393.7) scale(1.16,1)" font-size="5.43" text-anchor="end" fill="#4d4d4d" stroke="#4d4d4d" stroke-width="0.1" >200</text><line x1="667.3" y1="392.4" x2="667.3" y2="394.4" stroke="#8c8c8c" stroke-width="0.7" /><text transform="translate(667.3,399.8) scale(1.16,1)" font-size="5.43" text-anchor="middle" fill="#4d4d4d" stroke="#4d4d4d" stroke-width="0.1" >2</text><line x1="710.8" y1="392.4" x2="710.8" y2="394.4" stroke="#8c8c8c" stroke-width="0.7" /><text transform="translate(710.8,399.8) scale(1.16,1)" font-size="5.43" text-anchor="middle" fill="#4d4d4d" stroke="#4d4d4d" stroke-width="0.1" >4</text><line x1="754.4" y1="392.4" x2="754.4" y2="394.4" stroke="#8c8c8c" stroke-width="0.7" /><text transform="translate(754.4,399.8) scale(1.16,1)" font-size="5.43" text-anchor="middle" fill="#4d4d4d" stroke="#4d4d4d" stroke-width="0.1" >6</text><line x1="797.9" y1="392.4" x2="797.9" y2="394.4" stroke="#8c8c8c" stroke-width="0.7" /><text transform="translate(797.9,399.8) scale(1.16,1)" font-size="5.43" text-anchor="middle" fill="#4d4d4d" stroke="#4d4d4d" stroke-width="0.1" >8</text><line x1="841.4" y1="392.4" x2="841.4" y2="394.4" stroke="#8c8c8c" stroke-width="0.7" /><text transform="translate(841.4,399.8) scale(1.16,1)" font-size="5.43" text-anchor="middle" fill="#4d4d4d" stroke="#4d4d4d" stroke-width="0.1" >10</text><line x1="885" y1="392.4" x2="885" y2="394.4" stroke="#8c8c8c" stroke-width="0.7" /><text transform="translate(885,399.8) scale(1.16,1)" font-size="5.43" text-anchor="middle" fill="#4d4d4d" stroke="#4d4d4d" stroke-width="0.1" >12</text><text transform="translate(776.2,408.5) scale(1.16,1)" font-size="5.43" text-anchor="middle" fill="#4d4d4d" stroke="#4d4d4d" stroke-width="0.1" >样本</text><text transform="translate(620.6,364.5) scale(1.16,1) rotate(-90)" font-size="5.5" text-anchor="middle" fill="#333" stroke="#333" stroke-width="0.1">值</text><text x="618.5" y="425.8" font-size="9.2" text-anchor="start" fill="#333" stroke="#333" stroke-width="0.1" font-style="italic">实际过程散布用 6 西格玛表示。</text><rect x="963.9" y="160.8" width="173.4" height="60.1" fill="#fff" stroke="#bdbdbd" stroke-width="0.8" /><line x1="982.7" y1="160.8" x2="982.7" y2="220.9" stroke="#e6e6e6" stroke-width="0.7" /><line x1="1009" y1="160.8" x2="1009" y2="220.9" stroke="#e6e6e6" stroke-width="0.7" /><line x1="1035.2" y1="160.8" x2="1035.2" y2="220.9" stroke="#e6e6e6" stroke-width="0.7" /><line x1="1061.5" y1="160.8" x2="1061.5" y2="220.9" stroke="#e6e6e6" stroke-width="0.7" /><line x1="1087.7" y1="160.8" x2="1087.7" y2="220.9" stroke="#e6e6e6" stroke-width="0.7" /><line x1="1114" y1="160.8" x2="1114" y2="220.9" stroke="#e6e6e6" stroke-width="0.7" /><line x1="963.9" y1="192.4" x2="1137.3" y2="192.4" stroke="#e6e6e6" stroke-width="0.7" /><text transform="translate(1050.9,152.2) scale(1.16,1)" font-size="6.29" text-anchor="middle" fill="#4d4d4d" stroke="#4d4d4d" stroke-width="0.1" >能力直方图</text><rect x="989.3" y="199.5" width="13.1" height="21.2" fill="#7096d0" stroke="#3d4f6a" stroke-width="0.5" /><rect x="1002.4" y="192.4" width="13.1" height="28.3" fill="#7096d0" stroke="#3d4f6a" stroke-width="0.5" /><rect x="1015.5" y="178.3" width="13.1" height="42.4" fill="#7096d0" stroke="#3d4f6a" stroke-width="0.5" /><rect x="1028.6" y="164.1" width="13.1" height="56.6" fill="#7096d0" stroke="#3d4f6a" stroke-width="0.5" /><rect x="1041.8" y="213.6" width="13.1" height="7.1" fill="#7096d0" stroke="#3d4f6a" stroke-width="0.5" /><rect x="1054.9" y="206.6" width="13.1" height="14.1" fill="#7096d0" stroke="#3d4f6a" stroke-width="0.5" /><rect x="1120.5" y="213.6" width="13.1" height="7.1" fill="#7096d0" stroke="#3d4f6a" stroke-width="0.5" /><polyline fill="none" stroke="#6e2b2e" stroke-width="1.0" points="964.3,219 966.3,218.6 968.3,218.2 970.2,217.8 972.2,217.3 974.2,216.7 976.1,216.1 978.1,215.4 980.1,214.6 982,213.7 984,212.7 986,211.7 988,210.5 989.9,209.3 991.9,208.1 993.9,206.7 995.8,205.3 997.8,203.8 999.8,202.3 1001.7,200.8 1003.7,199.3 1005.7,197.7 1007.6,196.2 1009.6,194.8 1011.6,193.4 1013.5,192 1015.5,190.8 1017.5,189.7 1019.5,188.7 1021.4,187.9 1023.4,187.2 1025.4,186.7 1027.3,186.3 1029.3,186.2 1031.3,186.2 1033.2,186.5 1035.2,186.9 1037.2,187.4 1039.1,188.2 1041.1,189.1 1043.1,190.1 1045,191.3 1047,192.6 1049,193.9 1051,195.3 1052.9,196.8 1054.9,198.4 1056.9,199.9 1058.8,201.4 1060.8,202.9 1062.8,204.4 1064.7,205.9 1066.7,207.3 1068.7,208.6 1070.6,209.8 1072.6,211 1074.6,212.1 1076.5,213.1 1078.5,214 1080.5,214.9 1082.5,215.6 1084.4,216.3 1086.4,217 1088.4,217.5 1090.3,218 1092.3,218.4 1094.3,218.8 1096.2,219.1 1098.2,219.4 1100.2,219.6 1102.1,219.8 1104.1,220 1106.1,220.1 1108,220.2 1110,220.3 1112,220.4 1114,220.4 1115.9,220.5 1117.9,220.5 1119.9,220.6 1121.8,220.6 1123.8,220.6 1125.8,220.6 1127.7,220.7 1129.7,220.7 1131.7,220.7 1133.6,220.7 1135.6,220.7" /><polyline fill="none" stroke="#5a3a3e" stroke-width="0.8" points="964.3,220.6 966.3,220.5 968.3,220.4 970.2,220.3 972.2,220.2 974.2,220 976.1,219.8 978.1,219.5 980.1,219.1 982,218.6 984,218 986,217.3 988,216.4 989.9,215.3 991.9,214 993.9,212.6 995.8,210.9 997.8,208.9 999.8,206.8 1001.7,204.4 1003.7,201.8 1005.7,199 1007.6,196.1 1009.6,193.1 1011.6,190.1 1013.5,187.1 1015.5,184.2 1017.5,181.4 1019.5,178.9 1021.4,176.7 1023.4,174.9 1025.4,173.5 1027.3,172.6 1029.3,172.2 1031.3,172.3 1033.2,172.9 1035.2,174 1037.2,175.6 1039.1,177.6 1041.1,179.9 1043.1,182.5 1045,185.3 1047,188.3 1049,191.3 1051,194.3 1052.9,197.3 1054.9,200.2 1056.9,202.8 1058.8,205.4 1060.8,207.7 1062.8,209.7 1064.7,211.6 1066.7,213.2 1068.7,214.6 1070.6,215.8 1072.6,216.8 1074.6,217.6 1076.5,218.3 1078.5,218.8 1080.5,219.3 1082.5,219.6 1084.4,219.9 1086.4,220.1 1088.4,220.3 1090.3,220.4 1092.3,220.5 1094.3,220.5 1096.2,220.6 1098.2,220.6 1100.2,220.6 1102.1,220.7 1104.1,220.7 1106.1,220.7 1108,220.7 1110,220.7 1112,220.7 1114,220.7 1115.9,220.7 1117.9,220.7 1119.9,220.7 1121.8,220.7 1123.8,220.7 1125.8,220.7 1127.7,220.7 1129.7,220.7 1131.7,220.7 1133.6,220.7 1135.6,220.7" stroke-dasharray="3,2"/><line x1="1022.1" y1="160.8" x2="1022.1" y2="186" stroke="#c49090" stroke-width="0.6" stroke-dasharray="1.5,1"/><text transform="translate(1021.8,159.5) scale(1.16,1)" font-size="4.83" text-anchor="middle" fill="#b03030" stroke="#b03030" stroke-width="0.1" >规格上限</text><text transform="translate(982.7,228.4) scale(1.16,1)" font-size="5.43" text-anchor="middle" fill="#4d4d4d" stroke="#4d4d4d" stroke-width="0.1" >200</text><text transform="translate(1009,228.4) scale(1.16,1)" font-size="5.43" text-anchor="middle" fill="#4d4d4d" stroke="#4d4d4d" stroke-width="0.1" >220</text><text transform="translate(1035.2,228.4) scale(1.16,1)" font-size="5.43" text-anchor="middle" fill="#4d4d4d" stroke="#4d4d4d" stroke-width="0.1" >240</text><text transform="translate(1061.5,228.4) scale(1.16,1)" font-size="5.43" text-anchor="middle" fill="#4d4d4d" stroke="#4d4d4d" stroke-width="0.1" >260</text><text transform="translate(1087.7,228.4) scale(1.16,1)" font-size="5.43" text-anchor="middle" fill="#4d4d4d" stroke="#4d4d4d" stroke-width="0.1" >280</text><text transform="translate(1114,228.4) scale(1.16,1)" font-size="5.43" text-anchor="middle" fill="#4d4d4d" stroke="#4d4d4d" stroke-width="0.1" >300</text><line x1="1144.8" y1="165.7" x2="1158.6" y2="165.7" stroke="#9a9090" stroke-width="1.6" /><text transform="translate(1162.6,167.4) scale(1.16,1)" font-size="4.83" text-anchor="start" fill="#4d4d4d" stroke="#4d4d4d" stroke-width="0.1" >整体</text><line x1="1144.8" y1="172.6" x2="1158.6" y2="172.6" stroke="#6a5a5a" stroke-width="0.8" stroke-dasharray="3,2"/><text transform="translate(1162.6,174.3) scale(1.16,1)" font-size="4.83" text-anchor="start" fill="#4d4d4d" stroke="#4d4d4d" stroke-width="0.1" >组内</text><text transform="translate(1166.5,185.6) scale(1.16,1)" font-size="4.83" text-anchor="middle" fill="#4d4d4d" stroke="#4d4d4d" stroke-width="0.1" >规格</text><text transform="translate(1145.2,192.7) scale(1.16,1)" font-size="4.83" text-anchor="start" fill="#4d4d4d" stroke="#4d4d4d" stroke-width="0.1" >规格上限</text><text transform="translate(1177,192.7) scale(1.16,1)" font-size="4.83" text-anchor="start" fill="#4d4d4d" stroke="#4d4d4d" stroke-width="0.1" >230</text><rect x="964.5" y="252.3" width="219.8" height="58.8" fill="#fff" stroke="#bdbdbd" stroke-width="0.8" /><line x1="985.6" y1="252.3" x2="985.6" y2="311.1" stroke="#e8e8e8" stroke-width="0.7" /><line x1="1013.7" y1="252.3" x2="1013.7" y2="311.1" stroke="#e8e8e8" stroke-width="0.7" /><line x1="1041.4" y1="252.3" x2="1041.4" y2="311.1" stroke="#e8e8e8" stroke-width="0.7" /><line x1="1068.7" y1="252.3" x2="1068.7" y2="311.1" stroke="#e8e8e8" stroke-width="0.7" /><line x1="1096.4" y1="252.3" x2="1096.4" y2="311.1" stroke="#e8e8e8" stroke-width="0.7" /><line x1="1124" y1="252.3" x2="1124" y2="311.1" stroke="#e8e8e8" stroke-width="0.7" /><line x1="1151.3" y1="252.3" x2="1151.3" y2="311.1" stroke="#e8e8e8" stroke-width="0.7" /><line x1="964.5" y1="265.6" x2="1184.3" y2="265.6" stroke="#e8e8e8" stroke-width="0.7" /><line x1="964.5" y1="281.8" x2="1184.3" y2="281.8" stroke="#e8e8e8" stroke-width="0.7" /><line x1="964.5" y1="298.2" x2="1184.3" y2="298.2" stroke="#e8e8e8" stroke-width="0.7" /><text transform="translate(1073.6,242.2) scale(1.16,1)" font-size="6.29" text-anchor="middle" fill="#4d4d4d" stroke="#4d4d4d" stroke-width="0.1" >正态 概率图</text><text transform="translate(1073.6,249.8) scale(1.16,1)" font-size="5.43" text-anchor="middle" fill="#666" stroke="#666" stroke-width="0.1" >AD:1.224，P: &lt; 0.005</text><g clip-path="url(#cp1)"><line x1="977.7" y1="311.1" x2="1107.2" y2="252.3" stroke="#a0524a" stroke-width="0.7" /><line x1="997.5" y1="311.1" x2="1127" y2="252.3" stroke="#a0524a" stroke-width="0.7" /><line x1="1019.3" y1="311.1" x2="1149.7" y2="252.3" stroke="#a0524a" stroke-width="0.7" /></g><circle cx="1029.7" cy="305.7" r="2.2" fill="#1f4f8f"/><circle cx="1032.6" cy="299.6" r="2.2" fill="#1f4f8f"/><circle cx="1032.6" cy="297.2" r="2.2" fill="#1f4f8f"/><circle cx="1040" cy="294.2" r="2.2" fill="#1f4f8f"/><circle cx="1041.5" cy="293" r="2.2" fill="#1f4f8f"/><circle cx="1046" cy="290.5" r="2.2" fill="#1f4f8f"/><circle cx="1051" cy="287.7" r="2.2" fill="#1f4f8f"/><circle cx="1054" cy="285" r="2.2" fill="#1f4f8f"/><circle cx="1055.5" cy="284" r="2.2" fill="#1f4f8f"/><circle cx="1058" cy="282.7" r="2.2" fill="#1f4f8f"/><circle cx="1062" cy="279.5" r="2.2" fill="#1f4f8f"/><circle cx="1064.5" cy="277.5" r="2.2" fill="#1f4f8f"/><circle cx="1068.5" cy="275.3" r="2.2" fill="#1f4f8f"/><circle cx="1069" cy="274" r="2.2" fill="#1f4f8f"/><circle cx="1073" cy="272.5" r="2.2" fill="#1f4f8f"/><circle cx="1074" cy="270.6" r="2.2" fill="#1f4f8f"/><circle cx="1081" cy="268" r="2.2" fill="#1f4f8f"/><circle cx="1089" cy="265.8" r="2.2" fill="#1f4f8f"/><circle cx="1090.5" cy="262.7" r="2.2" fill="#1f4f8f"/><circle cx="1088.5" cy="264.5" r="2.2" fill="#1f4f8f"/><circle cx="1172.1" cy="257.7" r="2.2" fill="#1f4f8f"/><text transform="translate(1013.7,318.4) scale(1.16,1)" font-size="5.43" text-anchor="middle" fill="#4d4d4d" stroke="#4d4d4d" stroke-width="0.1" >200</text><text transform="translate(1068.7,318.4) scale(1.16,1)" font-size="5.43" text-anchor="middle" fill="#4d4d4d" stroke="#4d4d4d" stroke-width="0.1" >240</text><text transform="translate(1124,318.4) scale(1.16,1)" font-size="5.43" text-anchor="middle" fill="#4d4d4d" stroke="#4d4d4d" stroke-width="0.1" >280</text><text transform="translate(1179.4,318.4) scale(1.16,1)" font-size="5.43" text-anchor="middle" fill="#4d4d4d" stroke="#4d4d4d" stroke-width="0.1" >320</text><text transform="translate(1070.6,332.2) scale(1.16,1)" font-size="6.29" text-anchor="middle" fill="#4d4d4d" stroke="#4d4d4d" stroke-width="0.1" >能力图</text><rect x="1015.6" y="335.4" width="110.8" height="74.6" fill="#fff" stroke="#a0a0a0" stroke-width="0.8" /><line x1="1015.6" y1="342.1" x2="1126.4" y2="342.1" stroke="#a0a0a0" stroke-width="0.7" /><line x1="1015.6" y1="360.5" x2="1126.4" y2="360.5" stroke="#a0a0a0" stroke-width="0.7" /><line x1="1015.6" y1="367.5" x2="1126.4" y2="367.5" stroke="#a0a0a0" stroke-width="0.7" /><line x1="1015.6" y1="384.6" x2="1126.4" y2="384.6" stroke="#a0a0a0" stroke-width="0.7" /><line x1="1015.6" y1="391.2" x2="1126.4" y2="391.2" stroke="#a0a0a0" stroke-width="0.7" /><text transform="translate(1071,341.5) scale(1.16,1)" font-size="5.17" text-anchor="middle" fill="#4d4d4d" stroke="#4d4d4d" stroke-width="0.1" >整体</text><text transform="translate(1071,366.1) scale(1.16,1)" font-size="5.17" text-anchor="middle" fill="#4d4d4d" stroke="#4d4d4d" stroke-width="0.1" >组内</text><text transform="translate(1071,390.3) scale(1.16,1)" font-size="5.17" text-anchor="middle" fill="#4d4d4d" stroke="#4d4d4d" stroke-width="0.1" >规格</text><line x1="1022.6" y1="351.2" x2="1120.4" y2="351.2" stroke="#555" stroke-width="0.7" /><line x1="1022.6" y1="348.2" x2="1022.6" y2="354.2" stroke="#333" stroke-width="1.0" /><line x1="1071.2" y1="348.2" x2="1071.2" y2="354.2" stroke="#555" stroke-width="0.7" /><line x1="1120.4" y1="348.2" x2="1120.4" y2="354.2" stroke="#c05050" stroke-width="0.8" /><line x1="1036.4" y1="375.4" x2="1106.2" y2="375.4" stroke="#999" stroke-width="0.7" /><line x1="1036.4" y1="372.4" x2="1036.4" y2="378.4" stroke="#999" stroke-width="0.8" /><line x1="1071.2" y1="372.4" x2="1071.2" y2="378.4" stroke="#777" stroke-width="0.7" /><line x1="1106.2" y1="372.4" x2="1106.2" y2="378.4" stroke="#999" stroke-width="0.8" /><line x1="1015.6" y1="400.5" x2="1066.6" y2="400.5" stroke="#555" stroke-width="0.8" /><line x1="1066.6" y1="397.5" x2="1066.6" y2="403.5" stroke="#444" stroke-width="0.8" /><text transform="translate(985.6,342.5) scale(1.16,1)" font-size="4.83" text-anchor="middle" fill="#4d4d4d" stroke="#4d4d4d" stroke-width="0.1" >组内</text><text transform="translate(958.9,349) scale(1.16,1)" font-size="4.83" text-anchor="start" fill="#4d4d4d" stroke="#4d4d4d" stroke-width="0.1" >标准差</text><text transform="translate(982.6,349) scale(1.16,1)" font-size="4.83" text-anchor="start" fill="#4d4d4d" stroke="#4d4d4d" stroke-width="0.1" >14.53</text><text transform="translate(958.9,355.3) scale(1.16,1)" font-size="4.83" text-anchor="start" fill="#4d4d4d" stroke="#4d4d4d" stroke-width="0.1" >Cp</text><text transform="translate(982.6,355.3) scale(1.16,1)" font-size="4.83" text-anchor="start" fill="#4d4d4d" stroke="#4d4d4d" stroke-width="0.1" >*</text><text transform="translate(958.9,361.6) scale(1.16,1)" font-size="4.83" text-anchor="start" fill="#4d4d4d" stroke="#4d4d4d" stroke-width="0.1" >Cpk</text><text transform="translate(982.6,361.6) scale(1.16,1)" font-size="4.83" text-anchor="start" fill="#4d4d4d" stroke="#4d4d4d" stroke-width="0.1" >-0.14</text><text transform="translate(958.9,367.6) scale(1.16,1)" font-size="4.83" text-anchor="start" fill="#4d4d4d" stroke="#4d4d4d" stroke-width="0.1" >PPM</text><text transform="translate(982.6,367.6) scale(1.16,1)" font-size="4.83" text-anchor="start" fill="#4d4d4d" stroke="#4d4d4d" stroke-width="0.1" >659139.67</text><text transform="translate(1158.6,342.5) scale(1.16,1)" font-size="4.83" text-anchor="middle" fill="#4d4d4d" stroke="#4d4d4d" stroke-width="0.1" >整体</text><text transform="translate(1133.9,349) scale(1.16,1)" font-size="4.83" text-anchor="start" fill="#4d4d4d" stroke="#4d4d4d" stroke-width="0.1" >标准差</text><text transform="translate(1157.6,349) scale(1.16,1)" font-size="4.83" text-anchor="start" fill="#4d4d4d" stroke="#4d4d4d" stroke-width="0.1" >20.43</text><text transform="translate(1133.9,355.3) scale(1.16,1)" font-size="4.83" text-anchor="start" fill="#4d4d4d" stroke="#4d4d4d" stroke-width="0.1" >Pp</text><text transform="translate(1157.6,355.3) scale(1.16,1)" font-size="4.83" text-anchor="start" fill="#4d4d4d" stroke="#4d4d4d" stroke-width="0.1" >*</text><text transform="translate(1133.9,361.6) scale(1.16,1)" font-size="4.83" text-anchor="start" fill="#4d4d4d" stroke="#4d4d4d" stroke-width="0.1" >Ppk</text><text transform="translate(1157.6,361.6) scale(1.16,1)" font-size="4.83" text-anchor="start" fill="#4d4d4d" stroke="#4d4d4d" stroke-width="0.1" >-0.10</text><text transform="translate(1133.9,367.6) scale(1.16,1)" font-size="4.83" text-anchor="start" fill="#4d4d4d" stroke="#4d4d4d" stroke-width="0.1" >Cpm</text><text transform="translate(1157.6,367.6) scale(1.16,1)" font-size="4.83" text-anchor="start" fill="#4d4d4d" stroke="#4d4d4d" stroke-width="0.1" >*</text><text transform="translate(1133.9,374.1) scale(1.16,1)" font-size="4.83" text-anchor="start" fill="#4d4d4d" stroke="#4d4d4d" stroke-width="0.1" >PPM</text><text transform="translate(1157.6,374.1) scale(1.16,1)" font-size="4.83" text-anchor="start" fill="#4d4d4d" stroke="#4d4d4d" stroke-width="0.1" >614743.05</text>
<g transform="translate(0,333)"><text transform="translate(898.2,142.5) scale(1.16,1)" font-size="11.59" text-anchor="middle" fill="#333" >焊接电流（A）的 Process Capability Sixpack 报告</text><rect x="639.4" y="155.3" width="273.7" height="58.6" fill="#fff" stroke="#c4c4c4" stroke-width="0.8" /><line x1="639.4" y1="155.3" x2="639.4" y2="213.9" stroke="#8c8c8c" stroke-width="0.8" /><line x1="639.4" y1="213.9" x2="913.1" y2="213.9" stroke="#8c8c8c" stroke-width="0.8" /><text transform="translate(776,152.5) scale(1.16,1)" font-size="6.29" text-anchor="middle" fill="#4d4d4d" stroke="#4d4d4d" stroke-width="0.1" >Xbar 控制图</text><polyline fill="none" stroke="#9a807c" stroke-width="0.9" points="645.5,171.4 895.8,171.4 895.8,165.2 906.7,165.2" /><polyline fill="none" stroke="#9a807c" stroke-width="0.9" points="645.5,204.5 895.8,204.5 895.8,210.4 906.7,210.4" /><line x1="645.5" y1="188.2" x2="906.7" y2="188.2" stroke="#7fa094" stroke-width="1.0" /><polyline fill="none" stroke="#4f7398" stroke-width="0.6" points="645.5,184.3 667.3,177.9 689,158.4 710.8,199.1 732.6,193.2 754.4,196.5 776.1,192.8 797.9,186.7 819.7,186.7 841.4,197.5 863.2,187.9 885,191.9 906.7,189.7" /><circle cx="645.5" cy="184.3" r="2.2" fill="#1e3b5a"/><circle cx="667.3" cy="177.9" r="2.2" fill="#1e3b5a"/><rect x="686.7" y="156.1" width="4.6" height="4.6" fill="#b01e23" stroke="none" stroke-width="1" /><circle cx="710.8" cy="199.1" r="2.2" fill="#1e3b5a"/><circle cx="732.6" cy="193.2" r="2.2" fill="#1e3b5a"/><circle cx="754.4" cy="196.5" r="2.2" fill="#1e3b5a"/><circle cx="776.1" cy="192.8" r="2.2" fill="#1e3b5a"/><circle cx="797.9" cy="186.7" r="2.2" fill="#1e3b5a"/><circle cx="819.7" cy="186.7" r="2.2" fill="#1e3b5a"/><circle cx="841.4" cy="197.5" r="2.2" fill="#1e3b5a"/><circle cx="863.2" cy="187.9" r="2.2" fill="#1e3b5a"/><circle cx="885" cy="191.9" r="2.2" fill="#1e3b5a"/><circle cx="906.7" cy="189.7" r="2.2" fill="#1e3b5a"/><text transform="translate(689,154.2) scale(1.16,1)" font-size="4.74" text-anchor="middle" fill="#b01e23" stroke="#b01e23" stroke-width="0.1" >1</text><line x1="636.9" y1="162.1" x2="639.4" y2="162.1" stroke="#8c8c8c" stroke-width="0.7" /><text transform="translate(636,164.1) scale(1.16,1)" font-size="5.43" text-anchor="end" fill="#4d4d4d" stroke="#4d4d4d" stroke-width="0.1" >280</text><line x1="636.9" y1="186.1" x2="639.4" y2="186.1" stroke="#8c8c8c" stroke-width="0.7" /><text transform="translate(636,188.1) scale(1.16,1)" font-size="5.43" text-anchor="end" fill="#4d4d4d" stroke="#4d4d4d" stroke-width="0.1" >240</text><line x1="636.9" y1="210" x2="639.4" y2="210" stroke="#8c8c8c" stroke-width="0.7" /><text transform="translate(636,212) scale(1.16,1)" font-size="5.43" text-anchor="end" fill="#4d4d4d" stroke="#4d4d4d" stroke-width="0.1" >200</text><line x1="645.5" y1="213.9" x2="645.5" y2="215.9" stroke="#8c8c8c" stroke-width="0.7" /><text transform="translate(645.5,221.2) scale(1.16,1)" font-size="5.43" text-anchor="middle" fill="#4d4d4d" stroke="#4d4d4d" stroke-width="0.1" >1</text><line x1="667.3" y1="213.9" x2="667.3" y2="215.9" stroke="#8c8c8c" stroke-width="0.7" /><text transform="translate(667.3,221.2) scale(1.16,1)" font-size="5.43" text-anchor="middle" fill="#4d4d4d" stroke="#4d4d4d" stroke-width="0.1" >2</text><line x1="689" y1="213.9" x2="689" y2="215.9" stroke="#8c8c8c" stroke-width="0.7" /><text transform="translate(689,221.2) scale(1.16,1)" font-size="5.43" text-anchor="middle" fill="#4d4d4d" stroke="#4d4d4d" stroke-width="0.1" >3</text><line x1="710.8" y1="213.9" x2="710.8" y2="215.9" stroke="#8c8c8c" stroke-width="0.7" /><text transform="translate(710.8,221.2) scale(1.16,1)" font-size="5.43" text-anchor="middle" fill="#4d4d4d" stroke="#4d4d4d" stroke-width="0.1" >4</text><line x1="732.6" y1="213.9" x2="732.6" y2="215.9" stroke="#8c8c8c" stroke-width="0.7" /><text transform="translate(732.6,221.2) scale(1.16,1)" font-size="5.43" text-anchor="middle" fill="#4d4d4d" stroke="#4d4d4d" stroke-width="0.1" >5</text><line x1="754.4" y1="213.9" x2="754.4" y2="215.9" stroke="#8c8c8c" stroke-width="0.7" /><text transform="translate(754.4,221.2) scale(1.16,1)" font-size="5.43" text-anchor="middle" fill="#4d4d4d" stroke="#4d4d4d" stroke-width="0.1" >6</text><line x1="776.1" y1="213.9" x2="776.1" y2="215.9" stroke="#8c8c8c" stroke-width="0.7" /><text transform="translate(776.1,221.2) scale(1.16,1)" font-size="5.43" text-anchor="middle" fill="#4d4d4d" stroke="#4d4d4d" stroke-width="0.1" >7</text><line x1="797.9" y1="213.9" x2="797.9" y2="215.9" stroke="#8c8c8c" stroke-width="0.7" /><text transform="translate(797.9,221.2) scale(1.16,1)" font-size="5.43" text-anchor="middle" fill="#4d4d4d" stroke="#4d4d4d" stroke-width="0.1" >8</text><line x1="819.7" y1="213.9" x2="819.7" y2="215.9" stroke="#8c8c8c" stroke-width="0.7" /><text transform="translate(819.7,221.2) scale(1.16,1)" font-size="5.43" text-anchor="middle" fill="#4d4d4d" stroke="#4d4d4d" stroke-width="0.1" >9</text><line x1="841.4" y1="213.9" x2="841.4" y2="215.9" stroke="#8c8c8c" stroke-width="0.7" /><text transform="translate(841.4,221.2) scale(1.16,1)" font-size="5.43" text-anchor="middle" fill="#4d4d4d" stroke="#4d4d4d" stroke-width="0.1" >10</text><line x1="863.2" y1="213.9" x2="863.2" y2="215.9" stroke="#8c8c8c" stroke-width="0.7" /><text transform="translate(863.2,221.2) scale(1.16,1)" font-size="5.43" text-anchor="middle" fill="#4d4d4d" stroke="#4d4d4d" stroke-width="0.1" >11</text><line x1="885" y1="213.9" x2="885" y2="215.9" stroke="#8c8c8c" stroke-width="0.7" /><text transform="translate(885,221.2) scale(1.16,1)" font-size="5.43" text-anchor="middle" fill="#4d4d4d" stroke="#4d4d4d" stroke-width="0.1" >12</text><line x1="906.7" y1="213.9" x2="906.7" y2="215.9" stroke="#8c8c8c" stroke-width="0.7" /><text transform="translate(906.7,221.2) scale(1.16,1)" font-size="5.43" text-anchor="middle" fill="#4d4d4d" stroke="#4d4d4d" stroke-width="0.1" >13</text><text transform="translate(918.3,167.2) scale(1.16,1)" font-size="5.43" text-anchor="start" fill="#4d4d4d" stroke="#4d4d4d" stroke-width="0.1" >UCL=274.03</text><text transform="translate(918.3,190.2) scale(1.16,1)" font-size="5.43" text-anchor="start" fill="#4d4d4d" stroke="#4d4d4d" stroke-width="0.1" >X̄ =235.95</text><text transform="translate(918.3,212.4) scale(1.16,1)" font-size="5.43" text-anchor="start" fill="#4d4d4d" stroke="#4d4d4d" stroke-width="0.1" >LCL=197.84</text><text transform="translate(620.6,184.3) scale(1.16,1) rotate(-90)" font-size="5.5" text-anchor="middle" fill="#333" stroke="#333" stroke-width="0.1">样本均值</text><text transform="translate(611,230.9) scale(1.16,1)" font-size="4.83" text-anchor="start" fill="#444" stroke="#444" stroke-width="0.1" font-style="italic">使用不等样本量进行的检验</text><rect x="639.5" y="245.3" width="273.8" height="58.1" fill="#fff" stroke="#c4c4c4" stroke-width="0.8" /><line x1="639.5" y1="245.3" x2="639.5" y2="303.4" stroke="#8c8c8c" stroke-width="0.8" /><line x1="639.5" y1="303.4" x2="913.3" y2="303.4" stroke="#8c8c8c" stroke-width="0.8" /><text transform="translate(776.7,242.4) scale(1.16,1)" font-size="6.29" text-anchor="middle" fill="#4d4d4d" stroke="#4d4d4d" stroke-width="0.1" >R 控制图</text><line x1="645.5" y1="259.2" x2="895.5" y2="259.2" stroke="#9a807c" stroke-width="0.9" /><line x1="645.5" y1="288.3" x2="895.5" y2="288.3" stroke="#7fa094" stroke-width="1.0" /><line x1="645.5" y1="300.7" x2="895.5" y2="300.7" stroke="#9a807c" stroke-width="0.9" /><polyline fill="none" stroke="#4f7398" stroke-width="0.6" points="645.5,297 667.3,295.2 689,248.8 710.8,295.2 732.6,286.6 754.4,287.1 776.1,292.8 797.9,289.8 819.7,297 841.4,287.3 863.2,287.3 885,290.8" /><circle cx="645.5" cy="297" r="2.2" fill="#1e3b5a"/><circle cx="667.3" cy="295.2" r="2.2" fill="#1e3b5a"/><rect x="686.7" y="246.5" width="4.6" height="4.6" fill="#b01e23" stroke="none" stroke-width="1" /><circle cx="710.8" cy="295.2" r="2.2" fill="#1e3b5a"/><circle cx="732.6" cy="286.6" r="2.2" fill="#1e3b5a"/><circle cx="754.4" cy="287.1" r="2.2" fill="#1e3b5a"/><circle cx="776.1" cy="292.8" r="2.2" fill="#1e3b5a"/><circle cx="797.9" cy="289.8" r="2.2" fill="#1e3b5a"/><circle cx="819.7" cy="297" r="2.2" fill="#1e3b5a"/><circle cx="841.4" cy="287.3" r="2.2" fill="#1e3b5a"/><circle cx="863.2" cy="287.3" r="2.2" fill="#1e3b5a"/><circle cx="885" cy="290.8" r="2.2" fill="#1e3b5a"/><text transform="translate(689,244.7) scale(1.16,1)" font-size="4.74" text-anchor="middle" fill="#b01e23" stroke="#b01e23" stroke-width="0.1" >1</text><line x1="637" y1="257" x2="639.5" y2="257" stroke="#8c8c8c" stroke-width="0.7" /><text transform="translate(636,259) scale(1.16,1)" font-size="5.43" text-anchor="end" fill="#4d4d4d" stroke="#4d4d4d" stroke-width="0.1" >50</text><line x1="637" y1="279.2" x2="639.5" y2="279.2" stroke="#8c8c8c" stroke-width="0.7" /><text transform="translate(636,281.2) scale(1.16,1)" font-size="5.43" text-anchor="end" fill="#4d4d4d" stroke="#4d4d4d" stroke-width="0.1" >25</text><line x1="637" y1="300.9" x2="639.5" y2="300.9" stroke="#8c8c8c" stroke-width="0.7" /><text transform="translate(636,302.9) scale(1.16,1)" font-size="5.43" text-anchor="end" fill="#4d4d4d" stroke="#4d4d4d" stroke-width="0.1" >0</text><line x1="645.5" y1="303.4" x2="645.5" y2="305.4" stroke="#8c8c8c" stroke-width="0.7" /><text transform="translate(645.5,310.8) scale(1.16,1)" font-size="5.43" text-anchor="middle" fill="#4d4d4d" stroke="#4d4d4d" stroke-width="0.1" >1</text><line x1="667.3" y1="303.4" x2="667.3" y2="305.4" stroke="#8c8c8c" stroke-width="0.7" /><text transform="translate(667.3,310.8) scale(1.16,1)" font-size="5.43" text-anchor="middle" fill="#4d4d4d" stroke="#4d4d4d" stroke-width="0.1" >2</text><line x1="689" y1="303.4" x2="689" y2="305.4" stroke="#8c8c8c" stroke-width="0.7" /><text transform="translate(689,310.8) scale(1.16,1)" font-size="5.43" text-anchor="middle" fill="#4d4d4d" stroke="#4d4d4d" stroke-width="0.1" >3</text><line x1="710.8" y1="303.4" x2="710.8" y2="305.4" stroke="#8c8c8c" stroke-width="0.7" /><text transform="translate(710.8,310.8) scale(1.16,1)" font-size="5.43" text-anchor="middle" fill="#4d4d4d" stroke="#4d4d4d" stroke-width="0.1" >4</text><line x1="732.6" y1="303.4" x2="732.6" y2="305.4" stroke="#8c8c8c" stroke-width="0.7" /><text transform="translate(732.6,310.8) scale(1.16,1)" font-size="5.43" text-anchor="middle" fill="#4d4d4d" stroke="#4d4d4d" stroke-width="0.1" >5</text><line x1="754.4" y1="303.4" x2="754.4" y2="305.4" stroke="#8c8c8c" stroke-width="0.7" /><text transform="translate(754.4,310.8) scale(1.16,1)" font-size="5.43" text-anchor="middle" fill="#4d4d4d" stroke="#4d4d4d" stroke-width="0.1" >6</text><line x1="776.1" y1="303.4" x2="776.1" y2="305.4" stroke="#8c8c8c" stroke-width="0.7" /><text transform="translate(776.1,310.8) scale(1.16,1)" font-size="5.43" text-anchor="middle" fill="#4d4d4d" stroke="#4d4d4d" stroke-width="0.1" >7</text><line x1="797.9" y1="303.4" x2="797.9" y2="305.4" stroke="#8c8c8c" stroke-width="0.7" /><text transform="translate(797.9,310.8) scale(1.16,1)" font-size="5.43" text-anchor="middle" fill="#4d4d4d" stroke="#4d4d4d" stroke-width="0.1" >8</text><line x1="819.7" y1="303.4" x2="819.7" y2="305.4" stroke="#8c8c8c" stroke-width="0.7" /><text transform="translate(819.7,310.8) scale(1.16,1)" font-size="5.43" text-anchor="middle" fill="#4d4d4d" stroke="#4d4d4d" stroke-width="0.1" >9</text><line x1="841.4" y1="303.4" x2="841.4" y2="305.4" stroke="#8c8c8c" stroke-width="0.7" /><text transform="translate(841.4,310.8) scale(1.16,1)" font-size="5.43" text-anchor="middle" fill="#4d4d4d" stroke="#4d4d4d" stroke-width="0.1" >10</text><line x1="863.2" y1="303.4" x2="863.2" y2="305.4" stroke="#8c8c8c" stroke-width="0.7" /><text transform="translate(863.2,310.8) scale(1.16,1)" font-size="5.43" text-anchor="middle" fill="#4d4d4d" stroke="#4d4d4d" stroke-width="0.1" >11</text><line x1="885" y1="303.4" x2="885" y2="305.4" stroke="#8c8c8c" stroke-width="0.7" /><text transform="translate(885,310.8) scale(1.16,1)" font-size="5.43" text-anchor="middle" fill="#4d4d4d" stroke="#4d4d4d" stroke-width="0.1" >12</text><line x1="906.7" y1="303.4" x2="906.7" y2="305.4" stroke="#8c8c8c" stroke-width="0.7" /><text transform="translate(906.7,310.8) scale(1.16,1)" font-size="5.43" text-anchor="middle" fill="#4d4d4d" stroke="#4d4d4d" stroke-width="0.1" >13</text><text transform="translate(918.3,260.9) scale(1.16,1)" font-size="5.43" text-anchor="start" fill="#4d4d4d" stroke="#4d4d4d" stroke-width="0.1" >UCL=46.83</text><text transform="translate(918.3,289.2) scale(1.16,1)" font-size="5.17" text-anchor="start" fill="#4d4d4d" stroke="#4d4d4d" stroke-width="0.1" >R̄=14.33</text><text transform="translate(918.3,302.6) scale(1.16,1)" font-size="5.43" text-anchor="start" fill="#4d4d4d" stroke="#4d4d4d" stroke-width="0.1" >LCL=0</text><text transform="translate(620.6,278) scale(1.16,1) rotate(-90)" font-size="5.5" text-anchor="middle" fill="#333" stroke="#333" stroke-width="0.1">样本极差</text><text transform="translate(611,320.4) scale(1.16,1)" font-size="4.83" text-anchor="start" fill="#444" stroke="#444" stroke-width="0.1" font-style="italic">使用不等样本量进行的检验</text><rect x="639.5" y="335.3" width="273.5" height="57.1" fill="#fff" stroke="#c4c4c4" stroke-width="0.8" /><line x1="639.5" y1="335.3" x2="639.5" y2="392.4" stroke="#8c8c8c" stroke-width="0.8" /><line x1="639.5" y1="392.4" x2="913" y2="392.4" stroke="#8c8c8c" stroke-width="0.8" /><text transform="translate(776.7,332.2) scale(1.16,1)" font-size="6.29" text-anchor="middle" fill="#4d4d4d" stroke="#4d4d4d" stroke-width="0.1" >最后 13 个子组</text><line x1="639.5" y1="375.1" x2="913" y2="375.1" stroke="#9aa7b0" stroke-width="0.7" stroke-dasharray="1.5,1.5"/><circle cx="645.5" cy="370.7" r="2.1" fill="#1e3b5a"/><circle cx="645.5" cy="373.1" r="2.1" fill="#1e3b5a"/><circle cx="667.3" cy="366.2" r="2.1" fill="#1e3b5a"/><circle cx="667.3" cy="368.9" r="2.1" fill="#1e3b5a"/><circle cx="689" cy="338" r="2.1" fill="#1e3b5a"/><circle cx="689" cy="365.5" r="2.1" fill="#1e3b5a"/><circle cx="710.8" cy="382.3" r="2.1" fill="#1e3b5a"/><circle cx="710.8" cy="385.5" r="2.1" fill="#1e3b5a"/><circle cx="732.6" cy="375.1" r="2.1" fill="#1e3b5a"/><circle cx="732.6" cy="383" r="2.1" fill="#1e3b5a"/><circle cx="754.4" cy="378.1" r="2.1" fill="#1e3b5a"/><circle cx="754.4" cy="385.5" r="2.1" fill="#1e3b5a"/><circle cx="776.1" cy="376.3" r="2.1" fill="#1e3b5a"/><circle cx="776.1" cy="380.5" r="2.1" fill="#1e3b5a"/><circle cx="797.9" cy="371.1" r="2.1" fill="#1e3b5a"/><circle cx="797.9" cy="376.8" r="2.1" fill="#1e3b5a"/><circle cx="819.7" cy="372.4" r="2.1" fill="#1e3b5a"/><circle cx="819.7" cy="374.9" r="2.1" fill="#1e3b5a"/><circle cx="841.4" cy="379.3" r="2.1" fill="#1e3b5a"/><circle cx="841.4" cy="386.2" r="2.1" fill="#1e3b5a"/><circle cx="863.2" cy="371.4" r="2.1" fill="#1e3b5a"/><circle cx="863.2" cy="378.8" r="2.1" fill="#1e3b5a"/><circle cx="885" cy="375.1" r="2.1" fill="#1e3b5a"/><circle cx="885" cy="380.5" r="2.1" fill="#1e3b5a"/><circle cx="906.7" cy="376" r="2.1" fill="#1e3b5a"/><line x1="637" y1="345.5" x2="639.5" y2="345.5" stroke="#8c8c8c" stroke-width="0.7" /><text transform="translate(636,347.5) scale(1.16,1)" font-size="5.43" text-anchor="end" fill="#4d4d4d" stroke="#4d4d4d" stroke-width="0.1" >300</text><line x1="637" y1="368.7" x2="639.5" y2="368.7" stroke="#8c8c8c" stroke-width="0.7" /><text transform="translate(636,370.7) scale(1.16,1)" font-size="5.43" text-anchor="end" fill="#4d4d4d" stroke="#4d4d4d" stroke-width="0.1" >250</text><line x1="637" y1="391.7" x2="639.5" y2="391.7" stroke="#8c8c8c" stroke-width="0.7" /><text transform="translate(636,393.7) scale(1.16,1)" font-size="5.43" text-anchor="end" fill="#4d4d4d" stroke="#4d4d4d" stroke-width="0.1" >200</text><line x1="667.3" y1="392.4" x2="667.3" y2="394.4" stroke="#8c8c8c" stroke-width="0.7" /><text transform="translate(667.3,399.8) scale(1.16,1)" font-size="5.43" text-anchor="middle" fill="#4d4d4d" stroke="#4d4d4d" stroke-width="0.1" >2</text><line x1="710.8" y1="392.4" x2="710.8" y2="394.4" stroke="#8c8c8c" stroke-width="0.7" /><text transform="translate(710.8,399.8) scale(1.16,1)" font-size="5.43" text-anchor="middle" fill="#4d4d4d" stroke="#4d4d4d" stroke-width="0.1" >4</text><line x1="754.4" y1="392.4" x2="754.4" y2="394.4" stroke="#8c8c8c" stroke-width="0.7" /><text transform="translate(754.4,399.8) scale(1.16,1)" font-size="5.43" text-anchor="middle" fill="#4d4d4d" stroke="#4d4d4d" stroke-width="0.1" >6</text><line x1="797.9" y1="392.4" x2="797.9" y2="394.4" stroke="#8c8c8c" stroke-width="0.7" /><text transform="translate(797.9,399.8) scale(1.16,1)" font-size="5.43" text-anchor="middle" fill="#4d4d4d" stroke="#4d4d4d" stroke-width="0.1" >8</text><line x1="841.4" y1="392.4" x2="841.4" y2="394.4" stroke="#8c8c8c" stroke-width="0.7" /><text transform="translate(841.4,399.8) scale(1.16,1)" font-size="5.43" text-anchor="middle" fill="#4d4d4d" stroke="#4d4d4d" stroke-width="0.1" >10</text><line x1="885" y1="392.4" x2="885" y2="394.4" stroke="#8c8c8c" stroke-width="0.7" /><text transform="translate(885,399.8) scale(1.16,1)" font-size="5.43" text-anchor="middle" fill="#4d4d4d" stroke="#4d4d4d" stroke-width="0.1" >12</text><text transform="translate(776.2,408.5) scale(1.16,1)" font-size="5.43" text-anchor="middle" fill="#4d4d4d" stroke="#4d4d4d" stroke-width="0.1" >样本</text><text transform="translate(620.6,364.5) scale(1.16,1) rotate(-90)" font-size="5.5" text-anchor="middle" fill="#333" stroke="#333" stroke-width="0.1">值</text><text x="618.5" y="425.8" font-size="9.2" text-anchor="start" fill="#333" stroke="#333" stroke-width="0.1" font-style="italic">实际过程散布用 6 西格玛表示。</text><rect x="963.9" y="160.8" width="173.4" height="60.1" fill="#fff" stroke="#bdbdbd" stroke-width="0.8" /><line x1="982.7" y1="160.8" x2="982.7" y2="220.9" stroke="#e6e6e6" stroke-width="0.7" /><line x1="1009" y1="160.8" x2="1009" y2="220.9" stroke="#e6e6e6" stroke-width="0.7" /><line x1="1035.2" y1="160.8" x2="1035.2" y2="220.9" stroke="#e6e6e6" stroke-width="0.7" /><line x1="1061.5" y1="160.8" x2="1061.5" y2="220.9" stroke="#e6e6e6" stroke-width="0.7" /><line x1="1087.7" y1="160.8" x2="1087.7" y2="220.9" stroke="#e6e6e6" stroke-width="0.7" /><line x1="1114" y1="160.8" x2="1114" y2="220.9" stroke="#e6e6e6" stroke-width="0.7" /><line x1="963.9" y1="192.4" x2="1137.3" y2="192.4" stroke="#e6e6e6" stroke-width="0.7" /><text transform="translate(1050.9,152.2) scale(1.16,1)" font-size="6.29" text-anchor="middle" fill="#4d4d4d" stroke="#4d4d4d" stroke-width="0.1" >能力直方图</text><rect x="989.3" y="199.5" width="13.1" height="21.2" fill="#7096d0" stroke="#3d4f6a" stroke-width="0.5" /><rect x="1002.4" y="192.4" width="13.1" height="28.3" fill="#7096d0" stroke="#3d4f6a" stroke-width="0.5" /><rect x="1015.5" y="178.3" width="13.1" height="42.4" fill="#7096d0" stroke="#3d4f6a" stroke-width="0.5" /><rect x="1028.6" y="164.1" width="13.1" height="56.6" fill="#7096d0" stroke="#3d4f6a" stroke-width="0.5" /><rect x="1041.8" y="213.6" width="13.1" height="7.1" fill="#7096d0" stroke="#3d4f6a" stroke-width="0.5" /><rect x="1054.9" y="206.6" width="13.1" height="14.1" fill="#7096d0" stroke="#3d4f6a" stroke-width="0.5" /><rect x="1120.5" y="213.6" width="13.1" height="7.1" fill="#7096d0" stroke="#3d4f6a" stroke-width="0.5" /><polyline fill="none" stroke="#6e2b2e" stroke-width="1.0" points="964.3,219 966.3,218.6 968.3,218.2 970.2,217.8 972.2,217.3 974.2,216.7 976.1,216.1 978.1,215.4 980.1,214.6 982,213.7 984,212.7 986,211.7 988,210.5 989.9,209.3 991.9,208.1 993.9,206.7 995.8,205.3 997.8,203.8 999.8,202.3 1001.7,200.8 1003.7,199.3 1005.7,197.7 1007.6,196.2 1009.6,194.8 1011.6,193.4 1013.5,192 1015.5,190.8 1017.5,189.7 1019.5,188.7 1021.4,187.9 1023.4,187.2 1025.4,186.7 1027.3,186.3 1029.3,186.2 1031.3,186.2 1033.2,186.5 1035.2,186.9 1037.2,187.4 1039.1,188.2 1041.1,189.1 1043.1,190.1 1045,191.3 1047,192.6 1049,193.9 1051,195.3 1052.9,196.8 1054.9,198.4 1056.9,199.9 1058.8,201.4 1060.8,202.9 1062.8,204.4 1064.7,205.9 1066.7,207.3 1068.7,208.6 1070.6,209.8 1072.6,211 1074.6,212.1 1076.5,213.1 1078.5,214 1080.5,214.9 1082.5,215.6 1084.4,216.3 1086.4,217 1088.4,217.5 1090.3,218 1092.3,218.4 1094.3,218.8 1096.2,219.1 1098.2,219.4 1100.2,219.6 1102.1,219.8 1104.1,220 1106.1,220.1 1108,220.2 1110,220.3 1112,220.4 1114,220.4 1115.9,220.5 1117.9,220.5 1119.9,220.6 1121.8,220.6 1123.8,220.6 1125.8,220.6 1127.7,220.7 1129.7,220.7 1131.7,220.7 1133.6,220.7 1135.6,220.7" /><polyline fill="none" stroke="#5a3a3e" stroke-width="0.8" points="964.3,220.6 966.3,220.5 968.3,220.4 970.2,220.3 972.2,220.2 974.2,220 976.1,219.8 978.1,219.5 980.1,219.1 982,218.6 984,218 986,217.3 988,216.4 989.9,215.3 991.9,214 993.9,212.6 995.8,210.9 997.8,208.9 999.8,206.8 1001.7,204.4 1003.7,201.8 1005.7,199 1007.6,196.1 1009.6,193.1 1011.6,190.1 1013.5,187.1 1015.5,184.2 1017.5,181.4 1019.5,178.9 1021.4,176.7 1023.4,174.9 1025.4,173.5 1027.3,172.6 1029.3,172.2 1031.3,172.3 1033.2,172.9 1035.2,174 1037.2,175.6 1039.1,177.6 1041.1,179.9 1043.1,182.5 1045,185.3 1047,188.3 1049,191.3 1051,194.3 1052.9,197.3 1054.9,200.2 1056.9,202.8 1058.8,205.4 1060.8,207.7 1062.8,209.7 1064.7,211.6 1066.7,213.2 1068.7,214.6 1070.6,215.8 1072.6,216.8 1074.6,217.6 1076.5,218.3 1078.5,218.8 1080.5,219.3 1082.5,219.6 1084.4,219.9 1086.4,220.1 1088.4,220.3 1090.3,220.4 1092.3,220.5 1094.3,220.5 1096.2,220.6 1098.2,220.6 1100.2,220.6 1102.1,220.7 1104.1,220.7 1106.1,220.7 1108,220.7 1110,220.7 1112,220.7 1114,220.7 1115.9,220.7 1117.9,220.7 1119.9,220.7 1121.8,220.7 1123.8,220.7 1125.8,220.7 1127.7,220.7 1129.7,220.7 1131.7,220.7 1133.6,220.7 1135.6,220.7" stroke-dasharray="3,2"/><line x1="1022.1" y1="160.8" x2="1022.1" y2="186" stroke="#c49090" stroke-width="0.6" stroke-dasharray="1.5,1"/><text transform="translate(1021.8,159.5) scale(1.16,1)" font-size="4.83" text-anchor="middle" fill="#b03030" stroke="#b03030" stroke-width="0.1" >规格上限</text><text transform="translate(982.7,228.4) scale(1.16,1)" font-size="5.43" text-anchor="middle" fill="#4d4d4d" stroke="#4d4d4d" stroke-width="0.1" >200</text><text transform="translate(1009,228.4) scale(1.16,1)" font-size="5.43" text-anchor="middle" fill="#4d4d4d" stroke="#4d4d4d" stroke-width="0.1" >220</text><text transform="translate(1035.2,228.4) scale(1.16,1)" font-size="5.43" text-anchor="middle" fill="#4d4d4d" stroke="#4d4d4d" stroke-width="0.1" >240</text><text transform="translate(1061.5,228.4) scale(1.16,1)" font-size="5.43" text-anchor="middle" fill="#4d4d4d" stroke="#4d4d4d" stroke-width="0.1" >260</text><text transform="translate(1087.7,228.4) scale(1.16,1)" font-size="5.43" text-anchor="middle" fill="#4d4d4d" stroke="#4d4d4d" stroke-width="0.1" >280</text><text transform="translate(1114,228.4) scale(1.16,1)" font-size="5.43" text-anchor="middle" fill="#4d4d4d" stroke="#4d4d4d" stroke-width="0.1" >300</text><line x1="1144.8" y1="165.7" x2="1158.6" y2="165.7" stroke="#9a9090" stroke-width="1.6" /><text transform="translate(1162.6,167.4) scale(1.16,1)" font-size="4.83" text-anchor="start" fill="#4d4d4d" stroke="#4d4d4d" stroke-width="0.1" >整体</text><line x1="1144.8" y1="172.6" x2="1158.6" y2="172.6" stroke="#6a5a5a" stroke-width="0.8" stroke-dasharray="3,2"/><text transform="translate(1162.6,174.3) scale(1.16,1)" font-size="4.83" text-anchor="start" fill="#4d4d4d" stroke="#4d4d4d" stroke-width="0.1" >组内</text><text transform="translate(1166.5,185.6) scale(1.16,1)" font-size="4.83" text-anchor="middle" fill="#4d4d4d" stroke="#4d4d4d" stroke-width="0.1" >规格</text><text transform="translate(1145.2,192.7) scale(1.16,1)" font-size="4.83" text-anchor="start" fill="#4d4d4d" stroke="#4d4d4d" stroke-width="0.1" >规格上限</text><text transform="translate(1177,192.7) scale(1.16,1)" font-size="4.83" text-anchor="start" fill="#4d4d4d" stroke="#4d4d4d" stroke-width="0.1" >230</text><rect x="964.5" y="252.3" width="219.8" height="58.8" fill="#fff" stroke="#bdbdbd" stroke-width="0.8" /><line x1="985.6" y1="252.3" x2="985.6" y2="311.1" stroke="#e8e8e8" stroke-width="0.7" /><line x1="1013.7" y1="252.3" x2="1013.7" y2="311.1" stroke="#e8e8e8" stroke-width="0.7" /><line x1="1041.4" y1="252.3" x2="1041.4" y2="311.1" stroke="#e8e8e8" stroke-width="0.7" /><line x1="1068.7" y1="252.3" x2="1068.7" y2="311.1" stroke="#e8e8e8" stroke-width="0.7" /><line x1="1096.4" y1="252.3" x2="1096.4" y2="311.1" stroke="#e8e8e8" stroke-width="0.7" /><line x1="1124" y1="252.3" x2="1124" y2="311.1" stroke="#e8e8e8" stroke-width="0.7" /><line x1="1151.3" y1="252.3" x2="1151.3" y2="311.1" stroke="#e8e8e8" stroke-width="0.7" /><line x1="964.5" y1="265.6" x2="1184.3" y2="265.6" stroke="#e8e8e8" stroke-width="0.7" /><line x1="964.5" y1="281.8" x2="1184.3" y2="281.8" stroke="#e8e8e8" stroke-width="0.7" /><line x1="964.5" y1="298.2" x2="1184.3" y2="298.2" stroke="#e8e8e8" stroke-width="0.7" /><text transform="translate(1073.6,242.2) scale(1.16,1)" font-size="6.29" text-anchor="middle" fill="#4d4d4d" stroke="#4d4d4d" stroke-width="0.1" >正态 概率图</text><text transform="translate(1073.6,249.8) scale(1.16,1)" font-size="5.43" text-anchor="middle" fill="#666" stroke="#666" stroke-width="0.1" >AD:1.224，P: &lt; 0.005</text><g clip-path="url(#cp1)"><line x1="977.7" y1="311.1" x2="1107.2" y2="252.3" stroke="#a0524a" stroke-width="0.7" /><line x1="997.5" y1="311.1" x2="1127" y2="252.3" stroke="#a0524a" stroke-width="0.7" /><line x1="1019.3" y1="311.1" x2="1149.7" y2="252.3" stroke="#a0524a" stroke-width="0.7" /></g><circle cx="1029.7" cy="305.7" r="2.2" fill="#1f4f8f"/><circle cx="1032.6" cy="299.6" r="2.2" fill="#1f4f8f"/><circle cx="1032.6" cy="297.2" r="2.2" fill="#1f4f8f"/><circle cx="1040" cy="294.2" r="2.2" fill="#1f4f8f"/><circle cx="1041.5" cy="293" r="2.2" fill="#1f4f8f"/><circle cx="1046" cy="290.5" r="2.2" fill="#1f4f8f"/><circle cx="1051" cy="287.7" r="2.2" fill="#1f4f8f"/><circle cx="1054" cy="285" r="2.2" fill="#1f4f8f"/><circle cx="1055.5" cy="284" r="2.2" fill="#1f4f8f"/><circle cx="1058" cy="282.7" r="2.2" fill="#1f4f8f"/><circle cx="1062" cy="279.5" r="2.2" fill="#1f4f8f"/><circle cx="1064.5" cy="277.5" r="2.2" fill="#1f4f8f"/><circle cx="1068.5" cy="275.3" r="2.2" fill="#1f4f8f"/><circle cx="1069" cy="274" r="2.2" fill="#1f4f8f"/><circle cx="1073" cy="272.5" r="2.2" fill="#1f4f8f"/><circle cx="1074" cy="270.6" r="2.2" fill="#1f4f8f"/><circle cx="1081" cy="268" r="2.2" fill="#1f4f8f"/><circle cx="1089" cy="265.8" r="2.2" fill="#1f4f8f"/><circle cx="1090.5" cy="262.7" r="2.2" fill="#1f4f8f"/><circle cx="1088.5" cy="264.5" r="2.2" fill="#1f4f8f"/><circle cx="1172.1" cy="257.7" r="2.2" fill="#1f4f8f"/><text transform="translate(1013.7,318.4) scale(1.16,1)" font-size="5.43" text-anchor="middle" fill="#4d4d4d" stroke="#4d4d4d" stroke-width="0.1" >200</text><text transform="translate(1068.7,318.4) scale(1.16,1)" font-size="5.43" text-anchor="middle" fill="#4d4d4d" stroke="#4d4d4d" stroke-width="0.1" >240</text><text transform="translate(1124,318.4) scale(1.16,1)" font-size="5.43" text-anchor="middle" fill="#4d4d4d" stroke="#4d4d4d" stroke-width="0.1" >280</text><text transform="translate(1179.4,318.4) scale(1.16,1)" font-size="5.43" text-anchor="middle" fill="#4d4d4d" stroke="#4d4d4d" stroke-width="0.1" >320</text><text transform="translate(1070.6,332.2) scale(1.16,1)" font-size="6.29" text-anchor="middle" fill="#4d4d4d" stroke="#4d4d4d" stroke-width="0.1" >能力图</text><rect x="1015.6" y="335.4" width="110.8" height="74.6" fill="#fff" stroke="#a0a0a0" stroke-width="0.8" /><line x1="1015.6" y1="342.1" x2="1126.4" y2="342.1" stroke="#a0a0a0" stroke-width="0.7" /><line x1="1015.6" y1="360.5" x2="1126.4" y2="360.5" stroke="#a0a0a0" stroke-width="0.7" /><line x1="1015.6" y1="367.5" x2="1126.4" y2="367.5" stroke="#a0a0a0" stroke-width="0.7" /><line x1="1015.6" y1="384.6" x2="1126.4" y2="384.6" stroke="#a0a0a0" stroke-width="0.7" /><line x1="1015.6" y1="391.2" x2="1126.4" y2="391.2" stroke="#a0a0a0" stroke-width="0.7" /><text transform="translate(1071,341.5) scale(1.16,1)" font-size="5.17" text-anchor="middle" fill="#4d4d4d" stroke="#4d4d4d" stroke-width="0.1" >整体</text><text transform="translate(1071,366.1) scale(1.16,1)" font-size="5.17" text-anchor="middle" fill="#4d4d4d" stroke="#4d4d4d" stroke-width="0.1" >组内</text><text transform="translate(1071,390.3) scale(1.16,1)" font-size="5.17" text-anchor="middle" fill="#4d4d4d" stroke="#4d4d4d" stroke-width="0.1" >规格</text><line x1="1022.6" y1="351.2" x2="1120.4" y2="351.2" stroke="#555" stroke-width="0.7" /><line x1="1022.6" y1="348.2" x2="1022.6" y2="354.2" stroke="#333" stroke-width="1.0" /><line x1="1071.2" y1="348.2" x2="1071.2" y2="354.2" stroke="#555" stroke-width="0.7" /><line x1="1120.4" y1="348.2" x2="1120.4" y2="354.2" stroke="#c05050" stroke-width="0.8" /><line x1="1036.4" y1="375.4" x2="1106.2" y2="375.4" stroke="#999" stroke-width="0.7" /><line x1="1036.4" y1="372.4" x2="1036.4" y2="378.4" stroke="#999" stroke-width="0.8" /><line x1="1071.2" y1="372.4" x2="1071.2" y2="378.4" stroke="#777" stroke-width="0.7" /><line x1="1106.2" y1="372.4" x2="1106.2" y2="378.4" stroke="#999" stroke-width="0.8" /><line x1="1015.6" y1="400.5" x2="1066.6" y2="400.5" stroke="#555" stroke-width="0.8" /><line x1="1066.6" y1="397.5" x2="1066.6" y2="403.5" stroke="#444" stroke-width="0.8" /><text transform="translate(985.6,342.5) scale(1.16,1)" font-size="4.83" text-anchor="middle" fill="#4d4d4d" stroke="#4d4d4d" stroke-width="0.1" >组内</text><text transform="translate(958.9,349) scale(1.16,1)" font-size="4.83" text-anchor="start" fill="#4d4d4d" stroke="#4d4d4d" stroke-width="0.1" >标准差</text><text transform="translate(982.6,349) scale(1.16,1)" font-size="4.83" text-anchor="start" fill="#4d4d4d" stroke="#4d4d4d" stroke-width="0.1" >14.53</text><text transform="translate(958.9,355.3) scale(1.16,1)" font-size="4.83" text-anchor="start" fill="#4d4d4d" stroke="#4d4d4d" stroke-width="0.1" >Cp</text><text transform="translate(982.6,355.3) scale(1.16,1)" font-size="4.83" text-anchor="start" fill="#4d4d4d" stroke="#4d4d4d" stroke-width="0.1" >*</text><text transform="translate(958.9,361.6) scale(1.16,1)" font-size="4.83" text-anchor="start" fill="#4d4d4d" stroke="#4d4d4d" stroke-width="0.1" >Cpk</text><text transform="translate(982.6,361.6) scale(1.16,1)" font-size="4.83" text-anchor="start" fill="#4d4d4d" stroke="#4d4d4d" stroke-width="0.1" >-0.14</text><text transform="translate(958.9,367.6) scale(1.16,1)" font-size="4.83" text-anchor="start" fill="#4d4d4d" stroke="#4d4d4d" stroke-width="0.1" >PPM</text><text transform="translate(982.6,367.6) scale(1.16,1)" font-size="4.83" text-anchor="start" fill="#4d4d4d" stroke="#4d4d4d" stroke-width="0.1" >659139.67</text><text transform="translate(1158.6,342.5) scale(1.16,1)" font-size="4.83" text-anchor="middle" fill="#4d4d4d" stroke="#4d4d4d" stroke-width="0.1" >整体</text><text transform="translate(1133.9,349) scale(1.16,1)" font-size="4.83" text-anchor="start" fill="#4d4d4d" stroke="#4d4d4d" stroke-width="0.1" >标准差</text><text transform="translate(1157.6,349) scale(1.16,1)" font-size="4.83" text-anchor="start" fill="#4d4d4d" stroke="#4d4d4d" stroke-width="0.1" >20.43</text><text transform="translate(1133.9,355.3) scale(1.16,1)" font-size="4.83" text-anchor="start" fill="#4d4d4d" stroke="#4d4d4d" stroke-width="0.1" >Pp</text><text transform="translate(1157.6,355.3) scale(1.16,1)" font-size="4.83" text-anchor="start" fill="#4d4d4d" stroke="#4d4d4d" stroke-width="0.1" >*</text><text transform="translate(1133.9,361.6) scale(1.16,1)" font-size="4.83" text-anchor="start" fill="#4d4d4d" stroke="#4d4d4d" stroke-width="0.1" >Ppk</text><text transform="translate(1157.6,361.6) scale(1.16,1)" font-size="4.83" text-anchor="start" fill="#4d4d4d" stroke="#4d4d4d" stroke-width="0.1" >-0.10</text><text transform="translate(1133.9,367.6) scale(1.16,1)" font-size="4.83" text-anchor="start" fill="#4d4d4d" stroke="#4d4d4d" stroke-width="0.1" >Cpm</text><text transform="translate(1157.6,367.6) scale(1.16,1)" font-size="4.83" text-anchor="start" fill="#4d4d4d" stroke="#4d4d4d" stroke-width="0.1" >*</text><text transform="translate(1133.9,374.1) scale(1.16,1)" font-size="4.83" text-anchor="start" fill="#4d4d4d" stroke="#4d4d4d" stroke-width="0.1" >PPM</text><text transform="translate(1157.6,374.1) scale(1.16,1)" font-size="4.83" text-anchor="start" fill="#4d4d4d" stroke="#4d4d4d" stroke-width="0.1" >614743.05</text></g>
</svg>

<div class="a" style="left:1200px;top:97px;width:13px;height:587px;background:#fafafa;border-left:1px solid #e6e6e6;border-right:1px solid #ededed"></div>
<div class="a" style="left:1204px;top:100px;width:6.4px;height:500.7px;background:#c1c1c1;border-radius:3px"></div>
</body></html>
